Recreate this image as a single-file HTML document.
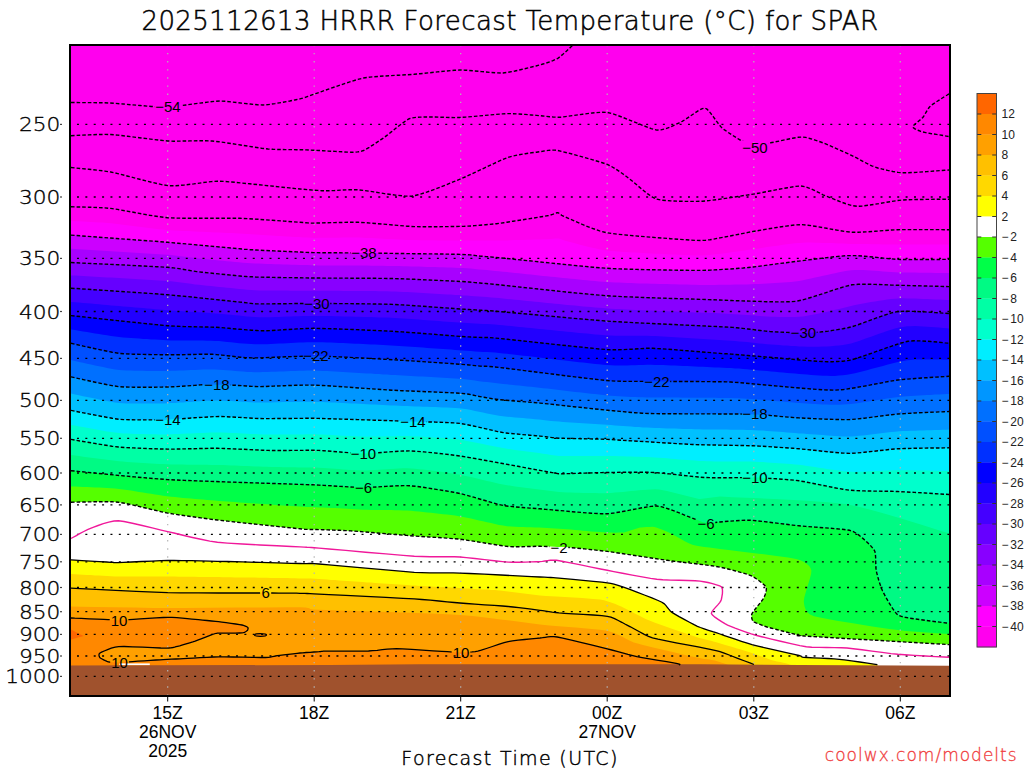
<!DOCTYPE html>
<html><head><meta charset="utf-8"><title>2025112613 HRRR Forecast Temperature for SPAR</title>
<style>
html,body{margin:0;padding:0;background:#fff;}
body{width:1024px;height:768px;overflow:hidden;}
svg{display:block;}
text{font-family:"DejaVu Sans","Liberation Sans",sans-serif;fill:#000;}
.dash{fill:none;stroke:#000;stroke-width:1.4;stroke-dasharray:3.6 2;}
.zero{fill:none;stroke:#F0189A;stroke-width:1.4;}
.solid{fill:none;stroke:#000;stroke-width:1.3;}
.gh line{stroke:#000;stroke-width:1.3;stroke-dasharray:2 6.37;}
.gv line{stroke:#B4B4B4;stroke-width:1.2;stroke-dasharray:1.4 6.72;}
.clab text{font-family:"Liberation Sans",sans-serif;font-size:15px;text-anchor:middle;}
.ylab text{font-size:19.4px;text-anchor:end;font-weight:200;stroke:#000;stroke-width:0.35px;}
.xlab text{font-family:"Liberation Sans",sans-serif;font-size:17.5px;text-anchor:middle;}
.cbl text{font-family:"Liberation Sans",sans-serif;font-size:12px;fill:#222;}
</style></head>
<body>
<svg width="1024" height="768" viewBox="0 0 1024 768">
<defs>
<mask id="lm" maskUnits="userSpaceOnUse" x="0" y="0" width="1024" height="768">
<rect x="0" y="0" width="1024" height="768" fill="#fff"/>
<rect x="154.8" y="99.5" width="26.3" height="14" fill="#000"/>
<rect x="741.9" y="141" width="26.3" height="14" fill="#000"/>
<rect x="350.9" y="246" width="26.3" height="14" fill="#000"/>
<rect x="303.9" y="296.4" width="26.3" height="14" fill="#000"/>
<rect x="790.4" y="326" width="26.3" height="14" fill="#000"/>
<rect x="302.9" y="349" width="26.3" height="14" fill="#000"/>
<rect x="643.9" y="374.3" width="26.3" height="14" fill="#000"/>
<rect x="203.8" y="377.7" width="26.3" height="14" fill="#000"/>
<rect x="741.9" y="407" width="26.3" height="14" fill="#000"/>
<rect x="154.8" y="412.6" width="26.3" height="14" fill="#000"/>
<rect x="399.9" y="414.5" width="26.3" height="14" fill="#000"/>
<rect x="350.4" y="446.5" width="26.3" height="14" fill="#000"/>
<rect x="741.9" y="470.5" width="26.3" height="14" fill="#000"/>
<rect x="354.1" y="480.5" width="18.7" height="14" fill="#000"/>
<rect x="696.6" y="516.6" width="18.7" height="14" fill="#000"/>
<rect x="549.6" y="540.3" width="18.7" height="14" fill="#000"/>
<rect x="260.1" y="586" width="11.1" height="14" fill="#000"/>
<rect x="109.7" y="613.6" width="18.7" height="14" fill="#000"/>
<rect x="110.2" y="656" width="18.7" height="14" fill="#000"/>
<rect x="451.6" y="645.3" width="18.7" height="14" fill="#000"/>
</mask>
<clipPath id="pc"><rect x="71" y="46" width="878" height="649"/></clipPath>
</defs>
<g clip-path="url(#pc)">
<rect x="71" y="46" width="878" height="649" fill="#FF00EE"/>
<path d="M71 220.9 L75 221.2 L79 221.3 L83 221.5 L87 221.7 L91 221.9 L95 222.2 L99 222.4 L103 222.6 L107 222.9 L111 223.2 L115 223.7 L119 224.2 L123 224.7 L127 225.2 L131 225.7 L135 226.2 L139 226.7 L143 227.2 L147 227.7 L151 228.2 L155 228.7 L159 229.2 L163 229.6 L167 230 L171 230.3 L175 230.5 L179 230.7 L183 230.9 L187 231.1 L191 231.3 L195 231.5 L199 231.7 L203 231.8 L207 232 L211 232.2 L215 232.4 L219 232.5 L223 232.7 L227 232.9 L231 233.1 L235 233.3 L239 233.5 L243 233.8 L247 234 L251 234.3 L255 234.5 L259 234.8 L263 235 L267 235.3 L271 235.5 L275 235.7 L279 236 L283 236.2 L287 236.4 L291 236.7 L295 236.9 L299 237.1 L303 237.4 L307 237.6 L311 237.8 L315 237.9 L319 237.8 L323 237.8 L327 237.8 L331 237.7 L335 237.7 L339 237.7 L343 237.6 L347 237.6 L351 237.6 L355 237.6 L359 237.6 L363 237.8 L367 237.9 L371 238.1 L375 238.3 L379 238.5 L383 238.7 L387 238.9 L391 239.1 L395 239.3 L399 239.5 L403 239.7 L407 239.9 L411 240 L415 240.1 L419 240.2 L423 240.3 L427 240.3 L431 240.3 L435 240.3 L439 240.4 L443 240.4 L447 240.4 L451 240.4 L455 240.4 L459 240.4 L463 240.4 L467 240.4 L471 240.4 L475 240.5 L479 240.6 L483 240.6 L487 240.6 L491 240.6 L495 240.6 L499 240.6 L503 240.5 L507 240.4 L511 240.2 L515 240.1 L519 240 L523 239.9 L527 239.8 L531 239.7 L535 239.6 L539 239.5 L543 239.3 L547 239.2 L551 239 L555 238.5 L559 238.6 L563 240.1 L567 241.2 L571 242.3 L575 243.3 L579 244.4 L583 245.4 L587 246.4 L591 247.4 L595 248.3 L599 249.2 L603 249.9 L607 250.6 L611 250.9 L615 251.3 L619 251.6 L623 251.9 L627 252.1 L631 252.4 L635 252.6 L639 252.8 L643 253 L647 253.2 L651 253.5 L655 253.7 L659 253.8 L663 254 L667 254.2 L671 254.4 L675 254.6 L679 254.7 L683 254.9 L687 255.1 L691 255.2 L695 255.4 L699 255.4 L703 255.4 L707 255.1 L711 254.8 L715 254.3 L719 253.9 L723 253.4 L727 252.9 L731 252.3 L735 251.8 L739 251.2 L743 250.7 L747 250.1 L751 249.5 L755 249 L759 248.4 L763 247.8 L767 247.1 L771 246.6 L775 246 L779 245.4 L783 244.8 L787 244.3 L791 243.8 L795 243.3 L799 242.9 L803 242.7 L807 242.6 L811 242.6 L815 242.7 L819 242.7 L823 242.9 L827 243 L831 243.1 L835 243.2 L839 243.4 L843 243.5 L847 243.7 L851 243.9 L855 243.9 L859 244 L863 244.1 L867 244.1 L871 244.2 L875 244.2 L879 244.3 L883 244.4 L887 244.4 L891 244.5 L895 244.5 L899 244.6 L903 244.6 L907 244.6 L911 244.6 L915 244.6 L919 244.6 L923 244.6 L927 244.6 L931 244.6 L935 244.6 L939 244.6 L943 244.6 L947 244.6 L949 244.5 L951 244.5 L951 700 L69 700 L69 220.9 Z" fill="#FF00FF"/>
<path d="M71 235.1 L80.3 235.8 L96.5 237 L116.5 238.5 L137 240 L155.1 241.3 L167.4 242.3 L178 243.2 L191.7 244.4 L206.6 245.8 L220.9 247.1 L232.6 248.1 L240 248.8 L244.1 249.2 L247.4 249.4 L250.3 249.7 L253 249.8 L255.9 250 L259.2 250.2 L265.1 250.5 L274.2 250.9 L285.2 251.4 L296.5 251.9 L306.4 252.4 L313.6 252.6 L319.9 252.7 L328 252.8 L337.2 252.8 L346.7 252.9 L355.9 252.9 L364 253 L375.5 253.1 L393.1 253.4 L413.7 253.7 L434 253.9 L450.8 254.2 L461 254.4 L466.2 254.6 L470.2 254.9 L473.4 255.2 L476 255.6 L478.1 255.9 L480 256.1 L481.8 256.2 L483.8 256.4 L486.2 256.6 L489.3 256.8 L493.4 257.2 L499 257.7 L510 258.8 L528.3 260.7 L550.4 263 L573.1 265.3 L593 267.2 L607 268.3 L619.6 268.9 L636.3 269.4 L654.5 269.8 L672.1 270.1 L686.7 270.3 L695.8 270.4 L701.2 270.4 L706.1 270.3 L710.5 270.1 L714.3 269.9 L717.5 269.7 L720 269.6 L722.7 269.4 L726.1 269.2 L729.9 269 L733.6 268.7 L736.7 268.5 L739 268.3 L740.4 268.2 L741.7 268.1 L743.2 268 L745.3 267.8 L748.4 267.5 L753 267 L762.7 265.8 L779 263.6 L798.6 261.1 L818.6 258.6 L835.8 256.6 L847 255.6 L855.1 255.6 L864.3 256.2 L874 257.1 L883.3 258.1 L891.5 258.9 L897.8 259.4 L904.8 259.5 L914.5 259.6 L925.3 259.5 L935.7 259.5 L944.1 259.4 L949 259.4 L951 259.4 L951 700 L69 700 L69 235.1 Z" fill="#CC00FF"/>
<path d="M71 248.8 L75 249 L79 249.3 L83 249.5 L87 249.8 L91 250 L95 250.3 L99 250.5 L103 250.7 L107 251 L111 251.2 L115 251.5 L119 251.7 L123 252 L127 252.2 L131 252.5 L135 252.7 L139 252.9 L143 253.2 L147 253.5 L151 253.7 L155 254 L159 254.2 L163 254.5 L167 254.8 L171 255.1 L175 255.5 L179 256 L183 256.5 L187 257 L191 257.5 L195 258 L199 258.5 L203 258.9 L207 259.3 L211 259.7 L215 260 L219 260.4 L223 260.8 L227 261.2 L231 261.6 L235 261.9 L239 262.3 L243 262.7 L247 263 L251 263.2 L255 263.5 L259 263.6 L263 263.8 L267 263.9 L271 264.1 L275 264.2 L279 264.3 L283 264.4 L287 264.6 L291 264.7 L295 264.8 L299 264.9 L303 265 L307 265.1 L311 265.2 L315 265.3 L319 265.4 L323 265.4 L327 265.4 L331 265.4 L335 265.5 L339 265.5 L343 265.5 L347 265.5 L351 265.5 L355 265.6 L359 265.6 L363 265.6 L367 265.6 L371 265.7 L375 265.7 L379 265.8 L383 265.8 L387 265.9 L391 265.9 L395 266 L399 266.1 L403 266.2 L407 266.3 L411 266.4 L415 266.5 L419 266.6 L423 266.7 L427 266.9 L431 267 L435 267.1 L439 267.2 L443 267.3 L447 267.5 L451 267.6 L455 267.7 L459 267.9 L463 268 L467 268.3 L471 268.6 L475 269 L479 269.4 L483 269.8 L487 270.1 L491 270.5 L495 270.9 L499 271.2 L503 271.7 L507 272.1 L511 272.5 L515 272.9 L519 273.3 L523 273.8 L527 274.2 L531 274.6 L535 275 L539 275.4 L543 275.9 L547 276.3 L551 276.7 L555 277.1 L559 277.5 L563 277.9 L567 278.3 L571 278.8 L575 279.1 L579 279.5 L583 279.9 L587 280.3 L591 280.7 L595 281.1 L599 281.4 L603 281.7 L607 282.1 L611 282.2 L615 282.4 L619 282.6 L623 282.8 L627 283 L631 283.1 L635 283.2 L639 283.4 L643 283.5 L647 283.6 L651 283.7 L655 283.8 L659 283.9 L663 284 L667 284.1 L671 284.2 L675 284.3 L679 284.4 L683 284.5 L687 284.6 L691 284.7 L695 284.8 L699 284.9 L703 284.9 L707 284.9 L711 284.9 L715 284.9 L719 284.8 L723 284.8 L727 284.7 L731 284.7 L735 284.6 L739 284.6 L743 284.5 L747 284.4 L751 284.2 L755 284 L759 283.9 L763 283.7 L767 283.5 L771 283.2 L775 283 L779 282.8 L783 282.5 L787 282.2 L791 281.9 L795 281.5 L799 280.9 L803 280.2 L807 279.3 L811 278.5 L815 277.6 L819 276.7 L823 275.8 L827 274.9 L831 274 L835 273.2 L839 272.3 L843 271.5 L847 270.8 L851 270.3 L855 270.1 L859 270 L863 270.1 L867 270.3 L871 270.5 L875 270.8 L879 271.1 L883 271.4 L887 271.7 L891 272 L895 272.2 L899 272.4 L903 272.5 L907 272.5 L911 272.6 L915 272.6 L919 272.7 L923 272.7 L927 272.8 L931 272.8 L935 272.9 L939 272.9 L943 272.9 L947 273 L949 273 L951 273 L951 700 L69 700 L69 248.8 Z" fill="#A800FF"/>
<path d="M71 262.5 L80.6 263 L97.5 263.8 L118.1 264.7 L139 265.8 L156.6 266.7 L167.4 267.3 L173.4 267.9 L179 268.6 L184 269.5 L188.7 270.3 L192.9 271 L196.7 271.6 L202 272.2 L209.8 273 L218.7 273.9 L227.6 274.8 L235.1 275.5 L240 276 L243.1 276.3 L246.1 276.5 L249.2 276.7 L252.3 276.8 L255.7 277 L259.2 277.1 L264.9 277.2 L273.6 277.4 L284.2 277.6 L295.2 277.7 L305.5 277.9 L313.6 278 L323 278.1 L336.7 278.1 L352.5 278.2 L368.4 278.2 L382.4 278.4 L392.4 278.5 L402 278.8 L414.8 279.3 L428.9 280 L442.6 280.6 L453.9 281.1 L461 281.5 L465.2 281.7 L469 282 L472.4 282.3 L475.3 282.6 L477.9 282.8 L480 283 L481.8 283.2 L483.8 283.3 L486.2 283.5 L489.3 283.8 L493.4 284.2 L499 284.8 L509.9 286 L527.7 287.9 L549.5 290.2 L572 292.6 L592.2 294.5 L607 295.8 L622.1 296.6 L643.2 297.5 L666.8 298.3 L689.7 299 L708.6 299.6 L720 300 L725.5 300.2 L729.1 300.4 L731.6 300.5 L733.6 300.6 L735.9 300.7 L739 300.8 L745.1 301 L754.7 301.3 L766.2 301.7 L778 301.9 L788.6 301.8 L796.2 301.3 L803.6 299.6 L813.4 296.7 L824.5 293.1 L835.5 289.4 L845.1 286.5 L852 284.8 L858.2 284.3 L866.2 284.2 L875.1 284.4 L883.9 284.7 L891.7 285.1 L897.8 285.3 L904.6 285.4 L914.2 285.7 L925.1 286 L935.6 286.2 L944.1 286.5 L949 286.6 L951 286.6 L951 700 L69 700 L69 262.5 Z" fill="#8800FF"/>
<path d="M71 275.4 L75 275.6 L79 275.8 L83 276 L87 276.3 L91 276.5 L95 276.7 L99 276.9 L103 277.2 L107 277.4 L111 277.6 L115 277.8 L119 278.1 L123 278.3 L127 278.5 L131 278.8 L135 279 L139 279.2 L143 279.5 L147 279.7 L151 279.9 L155 280.2 L159 280.4 L163 280.7 L167 281 L171 281.3 L175 281.7 L179 282.2 L183 282.7 L187 283.3 L191 283.8 L195 284.4 L199 284.8 L203 285.2 L207 285.7 L211 286.1 L215 286.5 L219 286.9 L223 287.3 L227 287.7 L231 288.1 L235 288.6 L239 289 L243 289.3 L247 289.7 L251 290.1 L255 290.3 L259 290.5 L263 290.5 L267 290.6 L271 290.6 L275 290.6 L279 290.6 L283 290.6 L287 290.6 L291 290.7 L295 290.7 L299 290.7 L303 290.7 L307 290.7 L311 290.7 L315 290.7 L319 290.7 L323 290.7 L327 290.8 L331 290.8 L335 290.8 L339 290.8 L343 290.9 L347 290.9 L351 290.9 L355 291 L359 291 L363 291 L367 291.1 L371 291.1 L375 291.1 L379 291.2 L383 291.3 L387 291.3 L391 291.4 L395 291.6 L399 291.7 L403 291.9 L407 292.1 L411 292.3 L415 292.5 L419 292.8 L423 293 L427 293.2 L431 293.5 L435 293.7 L439 293.9 L443 294.2 L447 294.4 L451 294.6 L455 294.9 L459 295.1 L463 295.4 L467 295.6 L471 295.9 L475 296.2 L479 296.5 L483 296.8 L487 297.1 L491 297.4 L495 297.8 L499 298.1 L503 298.5 L507 298.9 L511 299.3 L515 299.7 L519 300.1 L523 300.5 L527 300.9 L531 301.3 L535 301.7 L539 302.1 L543 302.5 L547 302.9 L551 303.3 L555 303.7 L559 304.1 L563 304.5 L567 304.9 L571 305.3 L575 305.6 L579 306 L583 306.4 L587 306.8 L591 307.1 L595 307.5 L599 307.8 L603 308.1 L607 308.5 L611 308.7 L615 308.9 L619 309.1 L623 309.3 L627 309.5 L631 309.7 L635 309.9 L639 310.1 L643 310.3 L647 310.4 L651 310.6 L655 310.8 L659 310.9 L663 311.1 L667 311.3 L671 311.4 L675 311.6 L679 311.7 L683 311.9 L687 312 L691 312.2 L695 312.4 L699 312.5 L703 312.7 L707 312.8 L711 313 L715 313.1 L719 313.3 L723 313.5 L727 313.7 L731 313.9 L735 314.2 L739 314.4 L743 314.7 L747 315 L751 315.3 L755 315.6 L759 315.9 L763 316.2 L767 316.5 L771 316.7 L775 316.8 L779 317 L783 317.1 L787 317.1 L791 317.1 L795 317.1 L799 316.8 L803 316.4 L807 315.8 L811 315.1 L815 314.3 L819 313.5 L823 312.6 L827 311.7 L831 310.8 L835 309.8 L839 308.9 L843 307.9 L847 306.9 L851 306 L855 305.1 L859 304.3 L863 303.5 L867 302.8 L871 302.1 L875 301.4 L879 300.8 L883 300.2 L887 299.6 L891 299.1 L895 298.7 L899 298.4 L903 298.3 L907 298.4 L911 298.5 L915 298.6 L919 298.7 L923 298.9 L927 299 L931 299.2 L935 299.4 L939 299.6 L943 299.8 L947 300 L949 300.1 L951 300.1 L951 700 L69 700 L69 275.4 Z" fill="#6600FF"/>
<path d="M71 288.2 L80.3 288.8 L96.5 289.9 L116.5 291.2 L137 292.5 L155.1 293.8 L167.4 294.7 L178 295.7 L191.7 297 L206.6 298.6 L220.9 300.1 L232.6 301.3 L240 302.1 L244.1 302.5 L247.3 302.9 L250.2 303.3 L252.8 303.6 L255.7 303.8 L259.2 303.9 L265.2 303.9 L274.6 303.8 L286 303.7 L297.8 303.5 L308.6 303.4 L317 303.4 L326.2 303.5 L339.3 303.6 L354.3 303.7 L369.4 303.9 L382.7 304.1 L392.4 304.4 L401.9 304.9 L414.6 305.7 L428.8 306.7 L442.5 307.7 L453.9 308.5 L461 309 L465.2 309.3 L469 309.5 L472.4 309.7 L475.3 309.9 L477.9 310.1 L480 310.2 L481.8 310.3 L483.8 310.4 L486.2 310.5 L489.3 310.7 L493.4 311 L499 311.5 L509.9 312.5 L527.7 314.1 L549.5 316.1 L572 318.2 L592.2 319.9 L607 321.1 L622.1 322 L643.2 323.1 L666.8 324.2 L689.7 325.3 L708.6 326.2 L720 326.7 L725.6 327 L729.7 327.2 L732.6 327.4 L734.8 327.6 L736.8 327.8 L739 328 L742.6 328.4 L747.8 329 L754 329.7 L760.2 330.5 L765.8 331.1 L770 331.5 L774.3 331.8 L780.3 332.1 L787.1 332.4 L793.8 332.7 L799.6 332.9 L803.5 333 L806.7 332.9 L810.4 332.8 L814.5 332.5 L818.5 332.2 L822.1 331.8 L825 331.5 L828.2 331.1 L832.5 330.4 L837.6 329.6 L842.8 328.7 L847.8 327.7 L852 326.7 L857.2 325 L865 322.2 L874 318.8 L883.2 315.6 L891.5 312.9 L897.8 311.5 L904.6 311.2 L914.2 311.4 L925.1 311.9 L935.6 312.6 L944.1 313.2 L949 313.5 L951 313.5 L951 700 L69 700 L69 288.2 Z" fill="#4400FF"/>
<path d="M71 301.9 L75 302.2 L79 302.6 L83 302.9 L87 303.3 L91 303.6 L95 304 L99 304.3 L103 304.7 L107 305 L111 305.4 L115 305.7 L119 306.1 L123 306.4 L127 306.7 L131 307.1 L135 307.4 L139 307.8 L143 308.1 L147 308.5 L151 308.8 L155 309.2 L159 309.5 L163 309.8 L167 310.2 L171 310.5 L175 310.8 L179 311 L183 311.3 L187 311.6 L191 311.8 L195 312.1 L199 312.3 L203 312.6 L207 312.8 L211 313.1 L215 313.4 L219 313.7 L223 314 L227 314.4 L231 314.8 L235 315.2 L239 315.6 L243 316 L247 316.4 L251 316.8 L255 317.1 L259 317.3 L263 317.3 L267 317.3 L271 317.2 L275 317.1 L279 316.9 L283 316.8 L287 316.6 L291 316.4 L295 316.3 L299 316.2 L303 316 L307 315.9 L311 315.9 L315 315.9 L319 315.9 L323 316 L327 316 L331 316.1 L335 316.2 L339 316.3 L343 316.4 L347 316.5 L351 316.6 L355 316.7 L359 316.8 L363 316.9 L367 317 L371 317.1 L375 317.2 L379 317.4 L383 317.5 L387 317.6 L391 317.8 L395 318 L399 318.2 L403 318.5 L407 318.8 L411 319 L415 319.3 L419 319.6 L423 319.9 L427 320.2 L431 320.5 L435 320.8 L439 321.1 L443 321.4 L447 321.7 L451 322 L455 322.3 L459 322.6 L463 322.8 L467 323.1 L471 323.3 L475 323.5 L479 323.7 L483 323.9 L487 324.1 L491 324.3 L495 324.6 L499 324.9 L503 325.3 L507 325.7 L511 326.1 L515 326.5 L519 326.9 L523 327.3 L527 327.7 L531 328.1 L535 328.5 L539 328.9 L543 329.3 L547 329.7 L551 330.1 L555 330.5 L559 330.9 L563 331.3 L567 331.7 L571 332.1 L575 332.5 L579 332.9 L583 333.2 L587 333.6 L591 334 L595 334.4 L599 334.7 L603 335 L607 335.4 L611 335.5 L615 335.7 L619 335.8 L623 335.8 L627 335.8 L631 335.8 L635 335.8 L639 335.8 L643 335.8 L647 335.8 L651 335.9 L655 336 L659 336.2 L663 336.5 L667 336.7 L671 336.9 L675 337.2 L679 337.4 L683 337.7 L687 337.9 L691 338.2 L695 338.4 L699 338.7 L703 339 L707 339.2 L711 339.5 L715 339.7 L719 340 L723 340.2 L727 340.5 L731 340.7 L735 341 L739 341.4 L743 341.7 L747 342.1 L751 342.6 L755 343 L759 343.4 L763 343.8 L767 344.2 L771 344.5 L775 344.8 L779 345.1 L783 345.4 L787 345.6 L791 345.9 L795 346.1 L799 346.4 L803 346.6 L807 346.7 L811 346.7 L815 346.8 L819 346.7 L823 346.6 L827 346.5 L831 346.2 L835 345.8 L839 345.4 L843 344.9 L847 344.3 L851 343.4 L855 342.3 L859 340.9 L863 339.5 L867 338.1 L871 336.7 L875 335.2 L879 333.8 L883 332.4 L887 331.1 L891 329.7 L895 328.6 L899 327.6 L903 326.9 L907 326.3 L911 326.2 L915 326.1 L919 326.2 L923 326.4 L927 326.7 L931 326.9 L935 327.2 L939 327.5 L943 327.9 L947 328.2 L949 328.4 L951 328.4 L951 700 L69 700 L69 301.9 Z" fill="#2200FF"/>
<path d="M71 315.6 L80.5 316.6 L97.1 318.4 L117.4 320.6 L138.1 322.8 L155.9 324.6 L167.4 325.7 L175.6 326.2 L184.9 326.6 L194.5 326.8 L203.5 327 L211.1 327.1 L216.2 327.3 L220.1 327.5 L224.5 327.9 L229 328.3 L233.3 328.7 L237 329.1 L240 329.3 L243.1 329.5 L247.1 329.9 L251.8 330.2 L256.6 330.5 L261.3 330.7 L265.4 330.8 L270.6 330.6 L278.3 330.1 L287.5 329.5 L297.1 328.9 L306.1 328.5 L313.6 328.3 L322.8 328.5 L336.4 328.9 L352.2 329.5 L368.2 330.2 L382.3 330.8 L392.4 331.3 L402 331.9 L414.8 332.8 L428.9 333.9 L442.6 335 L453.9 335.9 L461 336.4 L465.2 336.7 L469 336.9 L472.4 337.1 L475.3 337.2 L477.9 337.3 L480 337.4 L481.8 337.5 L483.8 337.5 L486.2 337.5 L489.3 337.6 L493.4 337.9 L499 338.4 L510.3 339.6 L529.2 341.6 L552 344.1 L575 346.5 L594.5 348.5 L607 349.6 L614.9 349.8 L623.2 349.6 L631.4 349.2 L639.2 348.7 L646.5 348.3 L652.7 348.3 L661 348.8 L673.3 349.6 L687.4 350.8 L701.2 351.9 L712.8 352.8 L720 353.4 L723.7 353.7 L726.5 353.8 L728.9 354 L731.5 354.1 L734.7 354.4 L739 354.7 L747.9 355.5 L762.4 356.7 L779.9 358.2 L797.4 359.7 L812.3 360.9 L821.6 361.5 L827.2 361.7 L832.6 361.7 L837.8 361.5 L842.8 361.2 L847.5 360.6 L852 359.7 L858.5 357.7 L868.2 354.4 L879.6 350.3 L891.1 346.3 L901.1 343 L908 341.2 L914.1 340.8 L922 340.9 L930.6 341.5 L938.7 342.2 L945.2 342.9 L949 343.2 L951 343.2 L951 700 L69 700 L69 315.6 Z" fill="#0000FF"/>
<path d="M71 329.5 L75 330.1 L79 330.8 L83 331.4 L87 332.1 L91 332.8 L95 333.4 L99 334.1 L103 334.7 L107 335.3 L111 336 L115 336.5 L119 337 L123 337.4 L127 337.8 L131 338.1 L135 338.3 L139 338.6 L143 338.9 L147 339.1 L151 339.4 L155 339.6 L159 339.8 L163 340 L167 340.2 L171 340.4 L175 340.5 L179 340.5 L183 340.6 L187 340.6 L191 340.6 L195 340.6 L199 340.6 L203 340.6 L207 340.7 L211 340.7 L215 340.9 L219 341.1 L223 341.5 L227 341.9 L231 342.3 L235 342.8 L239 343.2 L243 343.5 L247 343.8 L251 344 L255 344.2 L259 344.3 L263 344.3 L267 344.2 L271 344 L275 343.8 L279 343.6 L283 343.4 L287 343.2 L291 342.9 L295 342.7 L299 342.6 L303 342.4 L307 342.3 L311 342.2 L315 342.2 L319 342.2 L323 342.3 L327 342.5 L331 342.6 L335 342.8 L339 342.9 L343 343.1 L347 343.3 L351 343.5 L355 343.7 L359 343.8 L363 344 L367 344.2 L371 344.4 L375 344.6 L379 344.8 L383 345 L387 345.2 L391 345.4 L395 345.7 L399 345.9 L403 346.2 L407 346.4 L411 346.7 L415 347 L419 347.3 L423 347.6 L427 347.9 L431 348.2 L435 348.4 L439 348.7 L443 349 L447 349.3 L451 349.6 L455 349.9 L459 350.2 L463 350.5 L467 350.8 L471 351.1 L475 351.4 L479 351.7 L483 351.9 L487 352 L491 352.2 L495 352.5 L499 352.9 L503 353.4 L507 353.8 L511 354.3 L515 354.7 L519 355.2 L523 355.7 L527 356.1 L531 356.6 L535 357.1 L539 357.5 L543 358 L547 358.5 L551 358.9 L555 359.4 L559 359.9 L563 360.3 L567 360.8 L571 361.3 L575 361.7 L579 362.2 L583 362.6 L587 363 L591 363.5 L595 363.9 L599 364.3 L603 364.7 L607 365.1 L611 365.3 L615 365.5 L619 365.5 L623 365.5 L627 365.4 L631 365.3 L635 365.2 L639 365 L643 364.9 L647 364.8 L651 364.8 L655 364.9 L659 365 L663 365.1 L667 365.3 L671 365.4 L675 365.6 L679 365.8 L683 366 L687 366.1 L691 366.3 L695 366.5 L699 366.7 L703 366.8 L707 367 L711 367.2 L715 367.4 L719 367.6 L723 367.7 L727 367.9 L731 368.1 L735 368.4 L739 368.6 L743 369 L747 369.3 L751 369.7 L755 370.1 L759 370.4 L763 370.8 L767 371.1 L771 371.5 L775 371.8 L779 372.2 L783 372.6 L787 372.9 L791 373.2 L795 373.6 L799 373.9 L803 374.2 L807 374.6 L811 374.9 L815 375.2 L819 375.4 L823 375.7 L827 375.8 L831 375.9 L835 375.9 L839 375.6 L843 375.3 L847 374.8 L851 374.1 L855 373.3 L859 372.3 L863 371.3 L867 370.2 L871 369.1 L875 368 L879 366.9 L883 365.9 L887 364.8 L891 363.7 L895 362.7 L899 361.8 L903 361 L907 360.3 L911 359.9 L915 359.6 L919 359.6 L923 359.5 L927 359.5 L931 359.5 L935 359.5 L939 359.6 L943 359.7 L947 359.7 L949 359.8 L951 359.8 L951 700 L69 700 L69 329.5 Z" fill="#0030FF"/>
<path d="M71 343.3 L75.5 344.3 L83.3 346.1 L93 348.2 L103 350.4 L112.1 352.2 L118.6 353.3 L124.9 353.8 L133.5 354.2 L143.1 354.4 L152.7 354.6 L161.2 354.7 L167.4 354.8 L173.5 354.8 L181.6 354.7 L190.6 354.5 L199.5 354.3 L207.1 354.3 L212.3 354.3 L216.5 354.6 L221.7 355.1 L227.1 355.7 L232.3 356.3 L236.8 356.9 L240 357.2 L242.5 357.4 L245.4 357.6 L248.5 357.7 L251.9 357.9 L255.5 357.9 L259.2 357.9 L265.1 357.7 L274.3 357.3 L285.5 356.8 L297 356.4 L307.7 356.1 L316 356 L325.3 356.3 L338.5 356.9 L353.8 357.6 L369.1 358.4 L382.6 359.2 L392.4 359.7 L401.9 360.3 L414.7 361.1 L428.9 362.1 L442.5 363 L453.9 363.8 L461 364.3 L465.2 364.6 L469 365 L472.4 365.3 L475.3 365.6 L477.9 365.9 L480 366.1 L481.8 366.2 L483.8 366.3 L486.2 366.3 L489.3 366.5 L493.4 366.8 L499 367.4 L510.3 368.8 L529.1 371.2 L551.8 374 L574.8 376.9 L594.4 379.2 L607 380.6 L615.4 381.1 L624.5 381.4 L633.7 381.4 L642.5 381.4 L650.5 381.3 L657 381.3 L665 381.4 L676.5 381.5 L689.7 381.5 L702.5 381.6 L713.3 381.7 L720 381.8 L723.5 381.8 L726 381.9 L728.3 381.9 L730.8 382 L734.2 382.3 L739 382.6 L748.9 383.5 L765.3 385 L785 386.8 L805.1 388.5 L822.5 389.8 L834.3 390.2 L843.7 389.5 L855.3 387.7 L867.7 385.5 L879.8 383.2 L890.2 381.2 L897.8 380 L905.2 379.3 L915 378.5 L925.8 377.8 L936 377.1 L944.2 376.6 L949 376.3 L951 376.3 L951 700 L69 700 L69 343.3 Z" fill="#0050FF"/>
<path d="M71 360.1 L75 361 L79 361.9 L83 362.8 L87 363.7 L91 364.6 L95 365.4 L99 366.3 L103 367.1 L107 367.9 L111 368.7 L115 369.4 L119 370 L123 370.3 L127 370.5 L131 370.6 L135 370.7 L139 370.8 L143 370.8 L147 370.9 L151 370.9 L155 370.9 L159 370.9 L163 370.9 L167 370.9 L171 370.8 L175 370.7 L179 370.6 L183 370.4 L187 370.2 L191 370 L195 369.9 L199 369.7 L203 369.5 L207 369.4 L211 369.4 L215 369.6 L219 369.8 L223 370 L227 370.3 L231 370.6 L235 371 L239 371.3 L243 371.6 L247 371.9 L251 372.1 L255 372.2 L259 372.2 L263 372.1 L267 372 L271 371.8 L275 371.7 L279 371.5 L283 371.4 L287 371.2 L291 371 L295 370.9 L299 370.8 L303 370.7 L307 370.6 L311 370.6 L315 370.6 L319 370.7 L323 370.9 L327 371.1 L331 371.3 L335 371.5 L339 371.7 L343 372 L347 372.2 L351 372.4 L355 372.7 L359 372.9 L363 373.2 L367 373.4 L371 373.6 L375 373.9 L379 374.1 L383 374.4 L387 374.6 L391 374.9 L395 375.1 L399 375.3 L403 375.5 L407 375.8 L411 376 L415 376.2 L419 376.4 L423 376.6 L427 376.8 L431 377.1 L435 377.3 L439 377.5 L443 377.7 L447 378 L451 378.2 L455 378.4 L459 378.7 L463 379 L467 379.4 L471 379.9 L475 380.6 L479 381.2 L483 381.7 L487 382.1 L491 382.5 L495 383 L499 383.5 L503 383.9 L507 384.3 L511 384.8 L515 385.2 L519 385.6 L523 386 L527 386.4 L531 386.8 L535 387.3 L539 387.7 L543 388.2 L547 388.6 L551 389.1 L555 389.5 L559 390 L563 390.5 L567 390.9 L571 391.4 L575 391.9 L579 392.3 L583 392.8 L587 393.2 L591 393.7 L595 394.1 L599 394.5 L603 395 L607 395.4 L611 395.7 L615 396 L619 396.3 L623 396.5 L627 396.7 L631 396.9 L635 397.1 L639 397.2 L643 397.3 L647 397.4 L651 397.4 L655 397.4 L659 397.5 L663 397.5 L667 397.5 L671 397.6 L675 397.6 L679 397.6 L683 397.7 L687 397.7 L691 397.7 L695 397.7 L699 397.7 L703 397.8 L707 397.8 L711 397.8 L715 397.8 L719 397.9 L723 397.9 L727 397.9 L731 398 L735 398.2 L739 398.3 L743 398.5 L747 398.7 L751 399 L755 399.3 L759 399.6 L763 399.9 L767 400.2 L771 400.5 L775 400.9 L779 401.3 L783 401.6 L787 402 L791 402.3 L795 402.7 L799 403 L803 403.2 L807 403.5 L811 403.7 L815 404 L819 404.2 L823 404.4 L827 404.6 L831 404.7 L835 404.8 L839 404.7 L843 404.6 L847 404.3 L851 403.9 L855 403.5 L859 402.9 L863 402.3 L867 401.7 L871 401.1 L875 400.4 L879 399.8 L883 399.2 L887 398.5 L891 397.9 L895 397.4 L899 396.9 L903 396.6 L907 396.3 L911 396 L915 395.8 L919 395.5 L923 395.3 L927 395.1 L931 394.9 L935 394.6 L939 394.4 L943 394.2 L947 394 L949 393.9 L951 393.9 L951 700 L69 700 L69 360.1 Z" fill="#0070FF"/>
<path d="M71 376.9 L75.5 377.9 L83.3 379.6 L93 381.7 L103 383.9 L112.1 385.6 L118.6 386.6 L125 387 L133.6 387.2 L143.4 387.2 L153.1 387.2 L161.5 387.1 L167.4 387 L172.8 386.8 L179.7 386.4 L187.3 385.9 L194.6 385.4 L200.6 384.9 L204.5 384.7 L206.9 384.6 L209.2 384.6 L211.4 384.6 L213.5 384.6 L215.3 384.7 L217 384.7 L219.2 384.8 L222.3 384.8 L226 385 L229.7 385.1 L233.2 385.2 L235.8 385.3 L238.5 385.5 L242 385.7 L246.2 386 L250.6 386.3 L255.1 386.5 L259.2 386.6 L265 386.5 L273.8 386.1 L284.3 385.7 L295.3 385.3 L305.5 385.1 L313.6 385.1 L323 385.5 L336.7 386.4 L352.5 387.5 L368.4 388.6 L382.4 389.6 L392.4 390.2 L402 390.7 L414.8 391.2 L428.9 391.8 L442.6 392.4 L453.9 392.9 L461 393.3 L465.2 393.7 L469 394.3 L472.4 395 L475.3 395.6 L477.9 396.2 L480 396.6 L482.3 397 L485.3 397.5 L488.7 398.1 L492.3 398.7 L495.8 399.2 L499 399.6 L503.4 400 L509.9 400.6 L517.7 401.2 L525.9 401.9 L533.6 402.5 L540 403.1 L548 403.9 L559.8 405.2 L573.6 406.7 L587.4 408.1 L599.3 409.4 L607.3 410.2 L613.3 410.8 L620.1 411.4 L627.4 412.1 L635 412.7 L642.3 413.2 L649.2 413.5 L659.6 413.7 L675.7 413.8 L694.5 413.9 L713.2 413.9 L728.7 414 L738 414 L742.7 414.1 L746.4 414.1 L749.3 414.2 L751.6 414.3 L753.4 414.4 L755 414.5 L756.7 414.6 L758.8 414.7 L761.1 414.8 L763.5 415 L765.9 415.1 L768.2 415.3 L771.4 415.6 L776.3 416 L782.2 416.6 L788.4 417.1 L794.2 417.6 L799 417.9 L804.9 418.2 L813.5 418.6 L823.6 419.1 L833.8 419.4 L842.9 419.6 L849.5 419.6 L855.8 419.1 L864.2 418.2 L873.6 417 L883.1 415.7 L891.5 414.7 L897.8 414 L904.7 413.6 L914.4 413 L925.2 412.5 L935.7 412.1 L944.1 411.7 L949 411.5 L951 411.5 L951 700 L69 700 L69 376.9 Z" fill="#0096FF"/>
<path d="M71 393.6 L75 394.5 L79 395.3 L83 396.2 L87 397 L91 397.8 L95 398.6 L99 399.4 L103 400.2 L107 401 L111 401.7 L115 402.4 L119 402.9 L123 403.2 L127 403.4 L131 403.5 L135 403.5 L139 403.6 L143 403.6 L147 403.6 L151 403.6 L155 403.5 L159 403.5 L163 403.4 L167 403.3 L171 403.1 L175 402.9 L179 402.6 L183 402.4 L187 402.1 L191 401.9 L195 401.6 L199 401.3 L203 401 L207 400.8 L211 400.7 L215 400.6 L219 400.6 L223 400.7 L227 400.9 L231 401 L235 401.2 L239 401.5 L243 401.7 L247 402 L251 402.2 L255 402.4 L259 402.5 L263 402.5 L267 402.5 L271 402.4 L275 402.3 L279 402.2 L283 402.1 L287 402 L291 402 L295 401.9 L299 401.8 L303 401.8 L307 401.7 L311 401.7 L315 401.7 L319 401.9 L323 402 L327 402.2 L331 402.4 L335 402.6 L339 402.8 L343 403 L347 403.2 L351 403.4 L355 403.6 L359 403.8 L363 404 L367 404.2 L371 404.4 L375 404.6 L379 404.8 L383 405 L387 405.2 L391 405.4 L395 405.6 L399 405.8 L403 405.9 L407 406.1 L411 406.2 L415 406.4 L419 406.5 L423 406.7 L427 406.8 L431 407 L435 407.1 L439 407.2 L443 407.4 L447 407.6 L451 407.8 L455 408 L459 408.3 L463 408.7 L467 409.3 L471 410.1 L475 410.9 L479 411.8 L483 412.6 L487 413.5 L491 414.2 L495 415 L499 415.7 L503 416.3 L507 416.7 L511 417.1 L515 417.5 L519 417.8 L523 418.1 L527 418.5 L531 418.8 L535 419.2 L539 419.5 L543 419.9 L547 420.4 L551 420.9 L555 421.3 L559 421.6 L563 421.9 L567 422.2 L571 422.4 L575 422.7 L579 422.9 L583 423.2 L587 423.5 L591 423.7 L595 424 L599 424.2 L603 424.5 L607 424.8 L611 425.1 L615 425.4 L619 425.7 L623 426 L627 426.3 L631 426.6 L635 426.9 L639 427.1 L643 427.4 L647 427.6 L651 427.8 L655 427.9 L659 428.1 L663 428.2 L667 428.4 L671 428.5 L675 428.6 L679 428.8 L683 428.9 L687 429 L691 429.1 L695 429.2 L699 429.3 L703 429.4 L707 429.4 L711 429.5 L715 429.5 L719 429.5 L723 429.6 L727 429.6 L731 429.7 L735 429.7 L739 429.7 L743 429.8 L747 429.9 L751 430 L755 430.2 L759 430.4 L763 430.6 L767 430.9 L771 431.2 L775 431.5 L779 431.8 L783 432.1 L787 432.5 L791 432.8 L795 433.1 L799 433.4 L803 433.6 L807 433.9 L811 434.2 L815 434.5 L819 434.8 L823 435.1 L827 435.4 L831 435.7 L835 436 L839 436.2 L843 436.4 L847 436.5 L851 436.4 L855 436.2 L859 435.8 L863 435.4 L867 434.9 L871 434.4 L875 434 L879 433.5 L883 433 L887 432.5 L891 432.1 L895 431.7 L899 431.3 L903 431.1 L907 431 L911 430.8 L915 430.7 L919 430.5 L923 430.4 L927 430.3 L931 430.2 L935 430 L939 429.9 L943 429.8 L947 429.7 L949 429.6 L951 429.6 L951 700 L69 700 L69 393.6 Z" fill="#00C0FF"/>
<path d="M71 410.4 L75.6 411.3 L83.5 412.9 L93.3 414.8 L103.4 416.7 L112.2 418.3 L118.4 419.2 L123.8 419.6 L131 419.8 L138.8 419.9 L146.3 419.9 L152.5 419.9 L156.5 419.9 L158.9 419.9 L161.1 419.9 L163 419.8 L164.9 419.7 L166.5 419.7 L168 419.6 L169.9 419.5 L172.5 419.3 L175.6 419.1 L178.9 418.9 L182.1 418.7 L185 418.5 L188.9 418.2 L194.7 417.8 L201.7 417.4 L208.8 416.9 L215.2 416.6 L220 416.5 L224.9 416.6 L231.7 417 L239.4 417.4 L247.1 417.9 L254 418.3 L259.2 418.5 L264.6 418.6 L272 418.6 L280.4 418.5 L288.5 418.5 L295.5 418.4 L300 418.4 L302.8 418.4 L305.4 418.3 L308.1 418.3 L311.1 418.3 L314.7 418.3 L319 418.4 L327.4 418.7 L341.3 419.1 L357.8 419.6 L374.4 420.2 L388.2 420.6 L396.5 420.9 L400.5 421 L403.5 421.1 L405.9 421.2 L408 421.3 L410.2 421.4 L413 421.5 L418.1 421.7 L426 421.9 L435.5 422.1 L445.2 422.5 L453.8 422.9 L460 423.4 L465.8 424.4 L473.4 426 L482 427.9 L490.4 429.9 L497.8 431.6 L503.2 432.6 L508.3 433.3 L515.1 433.9 L522.5 434.6 L529.8 435.2 L535.9 435.7 L540 436.1 L542.9 436.4 L545.9 436.8 L549.1 437.2 L552.3 437.6 L555.6 438 L559 438.2 L564 438.4 L571.5 438.5 L580.7 438.7 L590.3 438.9 L599.6 439.1 L607.3 439.4 L617.2 440 L632.1 440.9 L649.4 441.9 L666.8 443 L682 443.9 L692.4 444.5 L701.2 444.8 L712.2 445 L724.2 445.2 L735.8 445.4 L745.8 445.6 L753 445.8 L759.4 446.1 L767.5 446.6 L776.4 447.2 L785.2 447.8 L793 448.3 L799 448.8 L805.4 449.4 L814.2 450.3 L824.2 451.4 L834.2 452.4 L843 453.1 L849.5 453.4 L855.8 453.1 L864.2 452.3 L873.6 451.3 L883.1 450.2 L891.5 449.3 L897.8 448.8 L904.7 448.5 L914.4 448.3 L925.2 448.1 L935.7 448 L944.1 447.9 L949 447.8 L951 447.8 L951 700 L69 700 L69 410.4 Z" fill="#00EEFF"/>
<path d="M71 424.9 L75 425.6 L79 426.4 L83 427.1 L87 427.8 L91 428.6 L95 429.3 L99 430 L103 430.7 L107 431.4 L111 432 L115 432.6 L119 433.1 L123 433.4 L127 433.6 L131 433.8 L135 433.9 L139 434 L143 434.1 L147 434.2 L151 434.3 L155 434.3 L159 434.4 L163 434.4 L167 434.4 L171 434.3 L175 434.1 L179 433.9 L183 433.8 L187 433.6 L191 433.4 L195 433.2 L199 433.1 L203 432.9 L207 432.7 L211 432.6 L215 432.5 L219 432.4 L223 432.5 L227 432.7 L231 432.9 L235 433.1 L239 433.3 L243 433.5 L247 433.7 L251 433.9 L255 434.1 L259 434.3 L263 434.4 L267 434.5 L271 434.5 L275 434.5 L279 434.5 L283 434.5 L287 434.5 L291 434.5 L295 434.4 L299 434.4 L303 434.4 L307 434.3 L311 434.3 L315 434.3 L319 434.4 L323 434.6 L327 434.8 L331 435 L335 435.3 L339 435.5 L343 435.7 L347 435.9 L351 436.1 L355 436.3 L359 436.5 L363 436.6 L367 436.7 L371 436.6 L375 436.6 L379 436.5 L383 436.4 L387 436.3 L391 436.2 L395 436.2 L399 436.1 L403 436.1 L407 436.1 L411 436.2 L415 436.4 L419 436.6 L423 436.8 L427 437 L431 437.3 L435 437.6 L439 437.8 L443 438.1 L447 438.4 L451 438.8 L455 439.2 L459 439.6 L463 440.2 L467 440.9 L471 441.7 L475 442.4 L479 443.3 L483 444.1 L487 444.9 L491 445.7 L495 446.5 L499 447.3 L503 448.1 L507 448.7 L511 449.3 L515 449.9 L519 450.4 L523 451 L527 451.5 L531 452 L535 452.6 L539 453.1 L543 453.7 L547 454.3 L551 454.9 L555 455.5 L559 455.9 L563 456.1 L567 456 L571 456 L575 456 L579 456 L583 455.9 L587 455.9 L591 455.9 L595 455.9 L599 455.9 L603 455.9 L607 455.9 L611 456 L615 456.1 L619 456.2 L623 456.3 L627 456.4 L631 456.5 L635 456.7 L639 456.8 L643 456.9 L647 457.1 L651 457.2 L655 457.4 L659 457.7 L663 458 L667 458.3 L671 458.7 L675 459 L679 459.4 L683 459.7 L687 460 L691 460.3 L695 460.6 L699 460.9 L703 461.1 L707 461.2 L711 461.3 L715 461.4 L719 461.4 L723 461.5 L727 461.5 L731 461.5 L735 461.5 L739 461.5 L743 461.6 L747 461.6 L751 461.6 L755 461.7 L759 461.9 L763 462.1 L767 462.4 L771 462.7 L775 462.9 L779 463.2 L783 463.5 L787 463.8 L791 464.1 L795 464.4 L799 464.8 L803 465.3 L807 465.9 L811 466.5 L815 467.1 L819 467.7 L823 468.3 L827 468.9 L831 469.5 L835 470.1 L839 470.6 L843 471.2 L847 471.6 L851 471.8 L855 471.9 L859 471.8 L863 471.7 L867 471.5 L871 471.3 L875 471.1 L879 470.9 L883 470.7 L887 470.5 L891 470.4 L895 470.2 L899 470.2 L903 470.2 L907 470.2 L911 470.3 L915 470.4 L919 470.5 L923 470.5 L927 470.6 L931 470.7 L935 470.8 L939 470.9 L943 471 L947 471.1 L949 471.1 L951 471.1 L951 700 L69 700 L69 424.9 Z" fill="#00FFCC"/>
<path d="M71 439.4 L75.5 440.2 L83.2 441.5 L92.9 443.1 L102.9 444.8 L111.9 446.2 L118.4 447 L124.7 447.5 L133.3 447.9 L143 448.4 L152.7 448.7 L161.3 449 L167.7 449.1 L174.1 449.1 L182.8 448.9 L192.5 448.7 L202.2 448.5 L210.9 448.3 L217.4 448.3 L224.1 448.5 L233.2 448.9 L243.5 449.3 L253.6 449.8 L262.3 450.2 L268.2 450.4 L273.1 450.5 L279 450.5 L285.3 450.5 L291.3 450.4 L296.5 450.4 L300 450.4 L302.7 450.4 L305.8 450.3 L309 450.3 L312.4 450.3 L315.7 450.3 L319 450.4 L323.9 450.7 L331.4 451.3 L340.2 452 L349.4 452.7 L357.5 453.3 L363.5 453.5 L369.3 453.3 L377.2 452.8 L386.1 452.1 L395.1 451.5 L403.1 451 L409.2 450.9 L415.4 451.2 L423.8 451.9 L433.3 452.8 L443.2 453.9 L452.4 455 L460 456 L469.8 457.6 L484.4 460.2 L501.2 463.3 L517.8 466.3 L531.5 468.9 L540 470.4 L544.7 471.2 L548.8 472 L552.3 472.6 L555.1 473.1 L557.4 473.5 L559 473.7 L560 473.8 L560.7 473.9 L561.3 473.9 L562.2 473.8 L563.4 473.8 L565.4 473.7 L569.6 473.6 L576.4 473.4 L584.8 473.1 L593.6 472.8 L601.4 472.6 L607.3 472.5 L613.2 472.4 L621.3 472.3 L630.5 472.3 L639.7 472.3 L648 472.3 L654.3 472.5 L660.7 473 L669.5 473.9 L679.5 475 L689.6 476.1 L698.4 477 L705 477.5 L711.8 477.7 L721 477.7 L731.4 477.7 L741.5 477.6 L749.8 477.5 L755 477.5 L757.9 477.6 L760.3 477.7 L762.3 477.8 L764.2 478 L766.1 478.1 L768.2 478.3 L771.4 478.5 L776.3 478.8 L782.2 479.2 L788.4 479.7 L794.2 480.2 L799 480.8 L804.9 481.8 L813.5 483.5 L823.6 485.5 L833.8 487.6 L842.9 489.2 L849.5 490.2 L855.8 490.6 L864.2 490.9 L873.6 491.1 L883.1 491.2 L891.5 491.3 L897.8 491.5 L904.7 491.9 L914.4 492.4 L925.2 493 L935.7 493.7 L944.1 494.2 L949 494.5 L951 494.5 L951 700 L69 700 L69 439.4 Z" fill="#00FFA5"/>
<path d="M71 455 L75 455.6 L79 456.1 L83 456.7 L87 457.2 L91 457.7 L95 458.3 L99 458.8 L103 459.3 L107 459.8 L111 460.3 L115 460.8 L119 461.2 L123 461.6 L127 461.9 L131 462.2 L135 462.5 L139 462.7 L143 463 L147 463.2 L151 463.5 L155 463.7 L159 463.9 L163 464.1 L167 464.3 L171 464.4 L175 464.5 L179 464.6 L183 464.6 L187 464.7 L191 464.7 L195 464.7 L199 464.8 L203 464.8 L207 464.8 L211 464.9 L215 464.9 L219 465 L223 465.1 L227 465.3 L231 465.4 L235 465.6 L239 465.7 L243 465.9 L247 466.1 L251 466.2 L255 466.4 L259 466.5 L263 466.7 L267 466.8 L271 466.9 L275 467 L279 467.1 L283 467.2 L287 467.2 L291 467.3 L295 467.3 L299 467.4 L303 467.4 L307 467.5 L311 467.5 L315 467.6 L319 467.8 L323 468 L327 468.3 L331 468.6 L335 468.8 L339 469.1 L343 469.4 L347 469.7 L351 469.9 L355 470.2 L359 470.3 L363 470.5 L367 470.4 L371 470.2 L375 470 L379 469.7 L383 469.5 L387 469.2 L391 469 L395 468.7 L399 468.5 L403 468.3 L407 468.3 L411 468.4 L415 468.7 L419 469.2 L423 469.6 L427 470.1 L431 470.6 L435 471.1 L439 471.6 L443 472.1 L447 472.7 L451 473.3 L455 473.9 L459 474.6 L463 475.4 L467 476.2 L471 477.1 L475 478.1 L479 479 L483 479.9 L487 480.9 L491 481.8 L495 482.8 L499 483.7 L503 484.5 L507 485.2 L511 485.8 L515 486.4 L519 486.9 L523 487.4 L527 487.9 L531 488.5 L535 489 L539 489.5 L543 490 L547 490.6 L551 491.1 L555 491.6 L559 492.1 L563 492.3 L567 492.4 L571 492.5 L575 492.7 L579 492.8 L583 492.9 L587 493 L591 493.1 L595 493.1 L599 493.2 L603 493.2 L607 493.2 L611 492.9 L615 492.6 L619 492.2 L623 491.9 L627 491.5 L631 491.1 L635 490.7 L639 490.3 L643 490 L647 489.7 L651 489.4 L655 489.3 L659 489.6 L663 490.2 L667 491.1 L671 491.9 L675 492.9 L679 493.9 L683 494.9 L687 495.9 L691 496.9 L695 497.9 L699 498.9 L700 499.1 L720 496.6 L732.2 497.2 L753.5 498.1 L779.7 499.3 L806.7 500.8 L830.5 502.4 L847 504.2 L861.8 507.4 L881.4 512.8 L902.8 519.1 L923.1 525.3 L939.5 530.5 L949 533.4 L951 533.4 L951 700 L69 700 L69 455 Z" fill="#00FA84"/>
<path d="M71 470.7 L79.9 471.6 L95.3 473.1 L114.4 475 L134.6 476.9 L153.3 478.5 L167.7 479.6 L184.4 480.4 L208.8 481.3 L236.8 482.3 L264.1 483.2 L286.5 483.9 L300 484.4 L306.2 484.6 L310.2 484.8 L312.8 484.8 L314.6 484.9 L316.4 485 L319 485.1 L323.9 485.4 L331.4 485.8 L340.2 486.4 L349.4 486.9 L357.5 487.3 L363.5 487.5 L369.3 487.3 L377.2 486.9 L386.1 486.4 L395.1 485.9 L403.1 485.6 L409.2 485.7 L415.7 486.3 L424.6 487.5 L434.7 489.1 L444.8 490.7 L453.6 492.3 L460 493.5 L465.9 495 L473.6 497.2 L482.1 499.7 L490.5 502.1 L497.9 504.2 L503.2 505.5 L508.3 506.2 L515.1 506.9 L522.5 507.5 L529.8 508.1 L535.9 508.5 L540 508.8 L542.9 509.1 L545.9 509.4 L549.1 509.6 L552.3 509.9 L555.6 510.2 L559 510.5 L564.2 510.9 L572.3 511.7 L582 512.5 L591.9 513.3 L600.8 513.7 L607.3 513.8 L613.8 513 L622.6 511.5 L632.5 509.6 L642.4 507.7 L650.9 506.4 L656.8 506 L662.1 506.9 L668.7 509 L675.9 511.6 L682.9 514.4 L688.6 516.7 L692.4 518.2 L694.9 519.1 L697.5 520.1 L700 521.1 L702.3 522 L704.4 522.6 L706 523 L707.7 523.1 L709.9 523 L712.4 522.7 L715 522.5 L717.6 522.2 L720 522 L723.3 521.7 L728.1 521.3 L734 520.9 L740.1 520.4 L745.8 520.2 L750.5 520.2 L756.1 520.7 L764.4 521.6 L774 522.8 L783.8 524 L792.5 525.1 L799 525.8 L805.7 526.4 L815 527.1 L825.5 527.9 L835.7 528.7 L844.2 529.5 L849.5 530.3 L852.7 531.4 L855.8 533 L858.6 534.9 L861.1 536.9 L863.1 538.6 L864.7 540 L866.3 541.4 L868.2 543.2 L870.3 545.3 L872.3 547.6 L873.9 549.6 L874.9 551.4 L875.3 553.6 L875.6 556.8 L875.7 560.6 L875.8 564.5 L875.9 567.9 L876.2 570.5 L876.8 573.1 L877.7 576.5 L878.8 580.5 L880.1 584.4 L881.3 588 L882.5 590.8 L884.1 593.9 L886.5 598.4 L889.4 603.4 L892.5 608.3 L895.4 612.4 L897.8 614.9 L900.7 616.2 L905 617.3 L910.1 618.2 L915.2 619 L919.7 619.5 L923.1 620 L926.6 620.5 L931.5 621.2 L937 621.8 L942.3 622.5 L946.5 623 L949 623.3 L951 623.3 L951 700 L69 700 L69 470.7 Z" fill="#00FF48"/>
<path d="M71 486.4 L75 486.6 L79 486.8 L83 486.9 L87 487.1 L91 487.2 L95 487.4 L99 487.6 L103 487.8 L107 488 L111 488.2 L115 488.5 L119 488.9 L123 489.4 L127 490 L131 490.6 L135 491.2 L139 491.9 L143 492.5 L147 493.2 L151 493.8 L155 494.5 L159 495.1 L163 495.7 L167 496.3 L171 496.7 L175 497.1 L179 497.5 L183 497.9 L187 498.3 L191 498.6 L195 499 L199 499.3 L203 499.6 L207 500 L211 500.3 L215 500.6 L219 500.9 L223 501.2 L227 501.5 L231 501.8 L235 502.1 L239 502.4 L243 502.7 L247 503 L251 503.2 L255 503.5 L259 503.8 L263 504.1 L267 504.3 L271 504.6 L275 504.9 L279 505.2 L283 505.4 L287 505.7 L291 506 L295 506.3 L299 506.5 L303 506.8 L307 507 L311 507.1 L315 507.2 L319 507.4 L323 507.5 L327 507.7 L331 507.9 L335 508.1 L339 508.3 L343 508.5 L347 508.7 L351 509 L355 509.2 L359 509.4 L363 509.7 L367 509.8 L371 509.9 L375 509.9 L379 510 L383 510 L387 510.1 L391 510.1 L395 510.2 L399 510.3 L403 510.4 L407 510.5 L411 510.8 L415 511.2 L419 511.6 L423 512 L427 512.4 L431 512.8 L435 513.2 L439 513.7 L443 514.2 L447 514.6 L451 515.1 L455 515.6 L459 516.2 L463 516.9 L467 517.7 L471 518.6 L475 519.5 L479 520.4 L483 521.3 L487 522.2 L491 523.1 L495 524 L499 524.9 L503 525.6 L507 526.2 L511 526.6 L515 526.8 L519 527 L523 527.1 L527 527.2 L531 527.3 L535 527.4 L539 527.5 L543 527.7 L547 528 L551 528.2 L555 528.5 L559 528.8 L563 528.9 L567 529.2 L571 529.6 L575 530 L579 530.3 L583 530.7 L587 531 L591 531.4 L595 531.7 L599 532 L603 532.3 L607 532.6 L611 532.6 L615 532.7 L619 532.6 L623 532.5 L624 532.5 L640 527.5 L641.3 527.4 L643.7 527.2 L646.6 527 L649.6 526.9 L652.3 526.8 L654.3 527 L656.2 527.5 L658.9 528.4 L661.8 529.5 L664.9 530.8 L667.7 532 L670 533 L672.6 534.4 L676.4 536.5 L680.8 539 L685.2 541.4 L689.3 543.5 L692.4 544.8 L695.5 545.6 L699.5 546.3 L704.2 546.9 L709.3 547.6 L714.7 548.2 L720 548.9 L728.6 550 L742.3 551.7 L758.6 553.7 L774.7 555.7 L788.1 557.6 L796.2 559 L800.4 560.3 L804 562 L806.9 564 L809.2 566.1 L810.6 568.3 L811.4 570.5 L811.1 573.9 L809.7 579.3 L807.8 585.6 L805.8 592 L804.3 597.4 L803.8 601 L804 603.5 L804.5 606.3 L805.5 609.2 L807.2 612 L810 614.4 L814 616.2 L822.5 618.1 L836.9 620.7 L854.4 623.6 L872.2 626.4 L887.6 628.7 L897.8 630.1 L905.9 631 L915.9 631.8 L926.5 632.6 L936.5 633.2 L944.4 633.7 L949 634 L951 634 L951 700 L69 700 L69 486.4 Z" fill="#55FF00"/>
<path d="M71 502.2 L75.5 502.1 L83.2 502 L92.9 501.8 L102.9 501.7 L111.9 501.8 L118.4 502.2 L124.7 503.3 L133.3 505.1 L143 507.4 L152.7 509.7 L161.3 511.8 L167.7 513.1 L173.9 514.1 L182 515.3 L191.3 516.6 L200.8 517.9 L209.8 519.1 L217.4 520 L227.4 521.1 L242.4 522.8 L259.9 524.6 L277 526.4 L291.3 527.9 L300 528.8 L304.6 529.2 L308.3 529.4 L311.4 529.5 L314.1 529.5 L316.5 529.5 L319 529.6 L322.5 529.7 L327.4 529.9 L333.2 530.1 L339.4 530.3 L345.5 530.6 L350.8 530.9 L358.1 531.4 L369.1 532.3 L382 533.4 L395.1 534.5 L406.5 535.4 L414.3 536 L420.8 536.5 L428.9 537 L437.7 537.5 L446.4 538.1 L454.1 538.7 L460 539.2 L466.3 540.1 L474.9 541.4 L484.6 543 L494.2 544.5 L502.5 545.8 L508.2 546.5 L513 546.7 L518.9 546.8 L525.2 546.6 L531.3 546.5 L536.4 546.3 L540 546.3 L543 546.4 L546.6 546.5 L550.5 546.6 L554.1 546.8 L557.1 546.9 L559 547 L560 547 L560.7 547 L561.3 546.9 L562.2 546.9 L563.4 546.9 L565.4 547.1 L569.5 547.5 L576.2 548.1 L584.4 548.9 L593 549.8 L601 550.7 L607.3 551.4 L614.5 552.4 L624.8 554 L636.8 555.8 L648.9 557.6 L659.4 559.2 L667 560.3 L674 561.2 L683.2 562.3 L693.4 563.5 L703.4 564.7 L711.9 565.8 L717.8 566.7 L722.8 567.7 L729 569.2 L735.6 571 L742 572.7 L747.3 574.3 L750.8 575.6 L753.5 577 L756.6 579 L759.7 581.2 L762.6 583.5 L764.8 585.5 L766 587 L766.4 588.5 L766.2 590.4 L765.8 592.6 L765.1 594.8 L764.3 596.8 L763.5 598.4 L762.2 600.3 L760.1 603 L757.6 606.1 L755.1 609.2 L753.1 611.9 L752 613.6 L751.6 614.9 L751.6 616.3 L751.7 617.8 L752.1 619.2 L752.6 620.4 L753.3 621.3 L754.5 622.1 L756.5 623.1 L759 624.1 L761.8 625.2 L764.5 626.2 L767 627 L770.7 628 L776.5 629.5 L783.3 631.3 L790.1 633 L795.7 634.4 L799 635.2 L799.6 635.5 L798.5 635.6 L797.2 635.6 L796.7 635.6 L798.5 635.7 L803.8 636 L818.8 636.9 L844.9 638.5 L876.6 640.3 L908.2 642.2 L934.2 643.7 L949 644.6 L951 644.6 L951 700 L69 700 L69 502.2 Z" fill="#FFFFFF"/>
<path d="M71 559.9 L75 560.1 L82 560.6 L90.6 561.1 L99.3 561.6 L106.5 562 L110.8 562.3 L112.6 562.4 L113.6 562.5 L114.2 562.6 L115 562.7 L116.2 562.7 L118.4 562.6 L123.3 562.4 L131.5 562 L141.5 561.5 L151.8 561.1 L161 560.7 L167.7 560.5 L173.9 560.5 L182 560.6 L191.3 560.7 L200.8 560.9 L209.8 561.1 L217.4 561.3 L227.4 561.5 L242.4 561.9 L259.9 562.4 L277 562.9 L291.3 563.3 L300 563.5 L304.1 563.6 L306.9 563.6 L309 563.5 L311.3 563.5 L314.3 563.7 L319 564 L329 564.9 L345.7 566.3 L365.6 568.1 L385.9 569.9 L403.1 571.4 L414.3 572.3 L421.7 572.6 L429.6 572.8 L437.7 572.9 L445.7 572.9 L453.2 572.9 L460 573.1 L469.6 573.5 L484.1 574.2 L501 575 L517.7 575.9 L531.5 576.6 L540 577 L544.4 577.2 L547.8 577.4 L550.7 577.5 L553.3 577.7 L555.9 577.9 L559 578.1 L564.4 578.6 L573 579.4 L583.1 580.3 L593.3 581.3 L601.9 582.1 L607.3 582.8 L610.7 583.4 L614 584.2 L617.3 585.2 L620.4 586.2 L623.5 587.2 L626.3 588.2 L630.5 589.7 L636.9 592.2 L644.4 595 L651.9 597.9 L658.1 600.5 L661.9 602.2 L664 603.6 L665.8 605.4 L667.3 607.3 L668.8 609.2 L670.3 611 L672 612.4 L674.8 614.1 L679.1 616.6 L684.2 619.4 L689.5 622.3 L694.1 624.7 L697.4 626.3 L700.4 627.5 L704.2 628.8 L708.5 630.3 L712.8 631.7 L716.8 632.9 L720 634 L723.7 635.3 L729 637.1 L735.1 639.2 L741.4 641.3 L747.3 643.2 L752 644.6 L757.9 646.1 L766.5 648.1 L776.5 650.4 L786.3 652.6 L794.3 654.4 L799 655.5 L800.9 656 L801.7 656.4 L801.8 656.7 L801.9 656.9 L802.4 657.1 L803.8 657.3 L807.3 657.5 L813.2 657.8 L820.3 658.2 L827.7 658.5 L834.4 658.9 L839.3 659.3 L844.4 659.9 L851.6 660.9 L859.7 662 L867.5 663.2 L873.8 664.1 L877.4 664.6 L877.4 700 L69 700 L69 559.9 Z" fill="#FFFF00"/>
<path d="M71 574 L75 574.3 L79 574.5 L83 574.7 L87 574.9 L91 575.1 L95 575.4 L99 575.6 L103 575.8 L107 576 L111 576.2 L115 576.5 L119 576.6 L123 576.6 L127 576.6 L131 576.6 L135 576.6 L139 576.6 L143 576.6 L147 576.5 L151 576.5 L155 576.5 L159 576.5 L163 576.5 L167 576.5 L171 576.6 L175 576.6 L179 576.7 L183 576.7 L187 576.7 L191 576.8 L195 576.8 L199 576.9 L203 576.9 L207 577 L211 577 L215 577.1 L219 577.1 L223 577.2 L227 577.2 L231 577.3 L235 577.4 L239 577.4 L243 577.5 L247 577.5 L251 577.6 L255 577.6 L259 577.7 L263 577.7 L267 577.8 L271 577.9 L275 577.9 L279 578 L283 578.1 L287 578.1 L291 578.2 L295 578.3 L299 578.4 L303 578.5 L307 578.5 L311 578.6 L315 578.8 L319 579 L323 579.3 L327 579.6 L331 579.9 L335 580.1 L339 580.4 L343 580.7 L347 581 L351 581.2 L355 581.5 L359 581.8 L363 582.1 L367 582.4 L371 582.6 L375 582.9 L379 583.2 L383 583.5 L387 583.7 L391 584 L395 584.3 L399 584.6 L403 584.8 L407 585.1 L411 585.4 L415 585.6 L419 585.9 L423 586.1 L427 586.3 L431 586.5 L435 586.7 L439 586.9 L443 587.1 L447 587.3 L451 587.5 L455 587.8 L459 588 L463 588.2 L467 588.5 L471 588.7 L475 588.9 L479 589.2 L483 589.4 L487 589.6 L491 589.9 L495 590.1 L499 590.4 L500 590.4 L540 595.6 L546 595.9 L556.4 596.5 L569.2 597.3 L582.2 598.1 L593.1 598.9 L600 599.5 L604.1 600.3 L608 601.4 L611.8 602.7 L615.4 604.1 L618.6 605.4 L621.3 606.6 L624.6 608.2 L629.1 610.5 L634.4 613.3 L639.9 616.1 L645.1 618.7 L649.4 620.6 L655 622.7 L663.5 625.7 L673.3 629.2 L683 632.5 L691.1 635.3 L696.3 637 L699.5 638 L702.7 638.8 L705.7 639.6 L708.6 640.2 L711.2 640.8 L713.4 641.4 L716.3 642.2 L720.4 643.4 L725.2 644.9 L729.9 646.3 L734 647.5 L736.9 648.4 L739.3 649.1 L742.3 650.1 L745.6 651.1 L748.8 652.1 L751.7 653 L753.9 653.7 L756.2 654.5 L759.4 655.7 L763 657 L766.6 658.3 L769.7 659.5 L772 660.2 L774.2 660.8 L777 661.4 L780.2 662.1 L783.2 662.8 L785.7 663.3 L787.3 663.7 L788.3 664 L789.3 664.4 L790.2 664.7 L791 665.1 L791.6 665.3 L792 665.5 L792 700 L69 700 L69 574 Z" fill="#FFD800"/>
<path d="M71 588.2 L80.2 588.6 L96.1 589.4 L115.7 590.4 L136.2 591.3 L154.5 592.1 L167.7 592.6 L180.7 592.8 L198.6 592.9 L218.7 593 L238.2 593 L254.5 593 L265 593 L271.8 593 L278.8 593.1 L285.4 593.1 L291.5 593.2 L296.5 593.2 L300 593.3 L302.5 593.4 L304.8 593.4 L307.2 593.5 L310.2 593.7 L314 593.9 L319 594.1 L329 594.6 L345.7 595.4 L365.6 596.4 L385.9 597.4 L403.1 598.3 L414.3 598.9 L421.9 599.5 L430.3 600.2 L438.9 601 L447.1 601.8 L454.3 602.5 L460 603 L466.3 603.5 L474.9 604.1 L484.6 604.8 L494.2 605.4 L502.5 606 L508.2 606.5 L513 607 L518.9 607.7 L525.2 608.4 L531.3 609.2 L536.4 609.8 L540 610.3 L542.7 610.7 L545.7 611.1 L548.9 611.6 L552.2 612.1 L555.6 612.5 L559 612.9 L564.4 613.3 L573 613.8 L583.1 614.4 L593.2 615 L601.8 615.7 L607.3 616.3 L610.9 617.2 L614.6 618.7 L618.3 620.5 L621.8 622.3 L624.9 624 L627.5 625.3 L630.4 626.8 L634.4 629 L639 631.5 L643.8 634.1 L648.5 636.3 L652.5 637.8 L658 639.2 L666.4 640.9 L676.1 642.8 L685.8 644.6 L694.1 646.2 L699.4 647.2 L702.9 647.9 L706.5 648.6 L710.2 649.3 L713.7 650.1 L717.1 650.9 L720 651.7 L724.2 653.2 L730.5 655.5 L737.7 658.3 L744.8 661 L750.6 663.2 L753.9 664.5 L753.9 700 L69 700 L69 588.2 Z" fill="#FFC000"/>
<path d="M71 606.5 L79.9 606.7 L95.3 606.9 L114.4 607.3 L134.6 607.6 L153.3 607.9 L167.7 608 L184.4 608 L208.8 607.8 L236.8 607.6 L264.1 607.4 L286.5 607.3 L300 607.3 L305.5 607.5 L308.1 607.9 L309.2 608.3 L310.3 608.9 L313.1 609.4 L319 609.8 L333.5 610.3 L357.8 611.1 L387.2 612.1 L417.2 613.1 L443 614.1 L460 614.9 L472.6 616 L487.3 617.7 L502.8 619.7 L517.6 621.6 L530.5 623.3 L540 624.5 L549.4 625.4 L561.9 626.4 L575.7 627.6 L589 628.7 L600.1 629.8 L607.3 630.8 L612.1 632.2 L617.1 634.2 L621.9 636.6 L626.4 639 L630.5 641.1 L633.8 642.5 L637.7 643.6 L643 645 L649.1 646.6 L655.3 648 L660.8 649.3 L665 650.3 L669.5 651.3 L675.8 652.8 L682.8 654.4 L689.8 655.9 L695.6 657.2 L699.4 658 L701.9 658.5 L704.6 658.9 L707.3 659.3 L709.7 659.6 L711.8 659.9 L713.4 660.2 L715 660.6 L717.2 661.2 L719.5 662 L721.8 662.7 L723.7 663.3 L725 663.7 L725.9 664 L726.9 664.4 L727.9 664.7 L728.9 665.1 L729.6 665.3 L730 665.5 L730 700 L69 700 L69 606.5 Z" fill="#FFA000"/>
<path d="M71 618 L74.7 618.2 L81.2 618.4 L89.1 618.8 L97.1 619.1 L103.8 619.4 L108 619.6 L110.3 619.7 L112.5 619.9 L114.5 620 L116.3 620.1 L117.8 620.2 L119 620.2 L120.2 620.2 L121.5 620.1 L123.1 620 L124.9 619.9 L127 619.7 L129.3 619.6 L133.4 619.3 L140 618.9 L148 618.3 L156.1 617.8 L163.2 617.5 L168 617.3 L172 617.4 L176.9 617.7 L182.2 618.2 L187.4 618.7 L191.9 619.1 L195.2 619.4 L198.4 619.7 L202.5 620.1 L207 620.5 L211.6 621 L215.6 621.4 L218.6 621.7 L221.8 622.1 L226.1 622.7 L231 623.3 L235.7 624 L239.6 624.6 L242 625 L243.4 625.4 L244.7 625.8 L245.9 626.3 L246.8 626.8 L247.5 627.3 L247.9 627.6 L248.1 628 L248.1 628.5 L248 629.1 L247.8 629.6 L247.6 630.1 L247.3 630.5 L246.9 630.8 L246.3 631.3 L245.5 631.8 L244.5 632.3 L243.3 632.7 L242 632.9 L239.5 633 L235.3 633.1 L230.3 633.1 L225.3 633.1 L221.1 633.2 L218.6 633.2 L217.4 633.2 L216.7 633.3 L216.1 633.3 L215.5 633.5 L214.9 633.7 L213.9 634 L212 634.7 L208.8 635.9 L205 637.4 L201.1 638.9 L197.7 640.2 L195.2 641.1 L192.8 641.9 L189.7 642.8 L186.1 643.9 L182.7 644.9 L179.7 645.8 L177.6 646.3 L176.1 646.7 L174.6 647.1 L172.9 647.5 L170.9 647.8 L168.6 648 L165.9 648.1 L160.8 648 L152.5 647.6 L142.6 647.2 L132.6 646.8 L124.1 646.5 L118.7 646.6 L115.2 647.2 L111.3 648.2 L107.6 649.6 L104.2 651 L101.6 652.2 L100 653 L99.3 653.7 L99 654.5 L99 655.4 L99.2 656.3 L99.6 657.1 L100 657.7 L100.8 658.3 L102.1 659 L103.7 659.9 L105.4 660.7 L107 661.4 L108.2 661.8 L109.5 662 L111.4 662.2 L113.5 662.3 L115.7 662.3 L117.6 662.4 L119 662.4 L120.2 662.4 L121.7 662.3 L123.4 662.2 L125.3 662.1 L127.3 661.9 L129.3 661.8 L132.6 661.6 L137.9 661.2 L144.2 660.8 L150.5 660.4 L156.1 660 L160 659.8 L163.2 659.6 L167.2 659.4 L171.5 659.2 L175.9 659 L180 658.8 L183.4 658.6 L187.5 658.4 L193.3 658.1 L200.1 657.7 L207.1 657.3 L213.5 657 L218.6 656.9 L224.5 656.9 L233.1 657 L242.9 657.2 L252.6 657.4 L260.6 657.5 L265.5 657.5 L268.2 657.4 L270.4 657.1 L272.3 656.7 L273.9 656.3 L275.5 656 L277.2 655.7 L279.8 655.4 L283.7 654.9 L288.3 654.3 L293 653.8 L297.1 653.3 L300 653 L302.7 652.8 L306.2 652.5 L310.1 652.3 L313.9 652 L317 651.8 L319 651.7 L320 651.6 L320.7 651.5 L321.3 651.4 L322.1 651.3 L323.4 651.2 L325.4 651.2 L329.8 651.2 L337.2 651.2 L346.2 651.2 L355.3 651.1 L363.3 651.1 L368.6 651 L372.6 650.7 L377.2 650.3 L382.3 649.7 L387.3 649.2 L392.2 648.8 L396.5 648.7 L402.5 648.9 L411.7 649.4 L422.4 650.1 L433 650.8 L441.8 651.4 L447.3 651.7 L450.3 651.9 L453 652 L455.4 652.2 L457.5 652.2 L459.4 652.3 L461 652.3 L463 652.3 L465.7 652.2 L468.8 652.1 L472 651.9 L475.1 651.6 L477.8 651.2 L481.3 650.2 L486.4 648.5 L492.4 646.5 L498.6 644.4 L504.1 642.7 L508.2 641.6 L512.4 640.9 L518.1 640.2 L524.6 639.5 L531 638.8 L536.4 638.3 L540 638 L542.5 637.7 L545.1 637.3 L547.9 636.9 L550.8 636.7 L553.9 636.7 L557.2 637 L562.7 638.1 L571.4 640.1 L581.8 642.6 L592.3 645.1 L601.3 647.3 L607.3 648.8 L611.8 650 L617 651.4 L622.5 652.9 L627.9 654.4 L632.8 655.6 L636.9 656.6 L642.1 657.6 L649.6 658.9 L658.3 660.3 L666.7 661.7 L673.5 662.9 L677.5 663.6 L679.1 664 L679.7 664.3 L679.8 664.6 L679.5 664.8 L679.1 664.9 L679 665 L679 700 L69 700 L69 618 Z" fill="#FF8800"/>
<path d="M71 629.6 L83.6 636 L71 639.5 Z" fill="#FF6600"/>
<ellipse cx="261.1" cy="635.1" rx="6" ry="1.3" fill="#FF8800"/>
<path d="M71 665.6 L150 665.3 L330 665 L420 664.3 L700 664.2 L800 665 L949 665.8 L949 695 L71 695 Z" fill="#A0522D"/>
<rect x="119.3" y="663.4" width="30.5" height="1.7" fill="#fff"/>
<g class="gv">
<line x1="167.7" y1="44.8" x2="167.7" y2="695"/>
<line x1="314.2" y1="44.8" x2="314.2" y2="695"/>
<line x1="460.7" y1="44.8" x2="460.7" y2="695"/>
<line x1="607.2" y1="44.8" x2="607.2" y2="695"/>
<line x1="753.8" y1="44.8" x2="753.8" y2="695"/>
<line x1="900.3" y1="44.8" x2="900.3" y2="695"/>
</g>
<g class="gh">
<line x1="68.6" y1="124.4" x2="949" y2="124.4"/>
<line x1="68.6" y1="197" x2="949" y2="197"/>
<line x1="68.6" y1="258.4" x2="949" y2="258.4"/>
<line x1="68.6" y1="311.5" x2="949" y2="311.5"/>
<line x1="68.6" y1="358.4" x2="949" y2="358.4"/>
<line x1="68.6" y1="400.4" x2="949" y2="400.4"/>
<line x1="68.6" y1="438.3" x2="949" y2="438.3"/>
<line x1="68.6" y1="473" x2="949" y2="473"/>
<line x1="68.6" y1="504.9" x2="949" y2="504.9"/>
<line x1="68.6" y1="534.4" x2="949" y2="534.4"/>
<line x1="68.6" y1="561.8" x2="949" y2="561.8"/>
<line x1="68.6" y1="587.5" x2="949" y2="587.5"/>
<line x1="68.6" y1="611.7" x2="949" y2="611.7"/>
<line x1="68.6" y1="634.4" x2="949" y2="634.4"/>
<line x1="68.6" y1="656" x2="949" y2="656"/>
<line x1="68.6" y1="676.4" x2="949" y2="676.4"/>
</g>
<g mask="url(#lm)">
<path class="dash" d="M71 102.5 L74.7 102.5 L81.1 102.6 L88.9 102.6 L97.2 102.7 L104.6 102.8 L110 103 L115.5 103.4 L123.1 104 L131.6 104.8 L140 105.5 L146.9 106.1 L151.4 106.5 L154.2 106.6 L157 106.7 L159.7 106.7 L162.1 106.6 L164.2 106.6 L166 106.5 L167.9 106.4 L170.3 106.3 L173.1 106.2 L176.1 106 L179.1 105.8 L181.9 105.5 L186 105 L192.4 104.1 L199.9 103.1 L207.7 102.1 L214.7 101.3 L220 101 L225.4 101.3 L233 102.1 L241.5 103.1 L250.1 104 L257.6 104.8 L263 105 L268.1 104.6 L275 103.6 L282.5 102.3 L289.8 101 L296 99.7 L300 98.9 L302.6 98.2 L305.2 97.4 L307.9 96.4 L310.6 95.4 L313.4 94.4 L316.5 93.3 L321.5 91.6 L329.3 88.8 L338.7 85.6 L348.4 82.3 L357.1 79.6 L363.5 78 L370 77.1 L378.8 76.4 L388.8 75.7 L398.8 75.2 L407.6 74.7 L414 74.3 L420.1 73.7 L428.2 72.9 L437.3 71.9 L446.3 71 L454.2 70.3 L460 70 L465.7 70.2 L473.3 70.8 L481.8 71.6 L490.3 72.4 L497.7 72.9 L503 73 L508.1 72.3 L514.9 71 L522.4 69.3 L529.7 67.5 L535.9 66 L540 64.9 L543 64 L546.3 63 L549.7 61.8 L552.9 60.6 L555.7 59.4 L557.8 58.3 L560 56.7 L562.9 54.3 L566.1 51.4 L569.1 48.6 L571.6 46.3 L573 45"/>
<path class="dash" d="M949 93.8 L947.2 95 L943.9 97 L940 99.5 L936 102.1 L932.6 104.4 L930.4 106 L929.1 107.5 L927.7 109.6 L926.3 111.9 L925 114.1 L923.8 116.1 L922.8 117.5 L921.4 118.8 L919.4 120.5 L917.1 122.4 L914.9 124.2 L913.3 125.8 L912.7 126.8 L913.2 127.6 L914.5 128.6 L916.4 129.6 L918.6 130.5 L920.8 131.4 L922.8 132 L925.8 132.6 L930.6 133.5 L936.3 134.4 L941.8 135.3 L946.4 136.1 L949 136.5"/>
<path class="dash" d="M71 135.7 L74.7 135.5 L80.9 135.2 L88.8 134.9 L97.1 134.5 L104.8 134.4 L110.8 134.5 L117.7 135.1 L127.6 136.3 L139.1 137.7 L150.6 139.1 L160.6 140.3 L167.7 141 L173.8 141.2 L181.5 141.1 L189.9 140.9 L198.3 140.8 L205.9 140.8 L212 141 L219 141.8 L229 143.2 L240.5 145 L251.8 146.7 L261.5 148.2 L268 149 L273.1 149.3 L279.1 149.5 L285.4 149.6 L291.4 149.6 L296.5 149.7 L300 149.7 L302.8 149.8 L306.1 149.9 L309.5 150.1 L312.9 150.2 L316.2 150.4 L319 150.5 L322.8 150.7 L328.5 151.1 L335.1 151.4 L341.7 151.8 L347.3 152.1 L350.8 152.2 L353.1 152.2 L355.3 152.1 L357.6 151.9 L359.7 151.6 L361.7 151.1 L363.5 150.5 L365.8 149.3 L369.2 147.3 L373.2 144.8 L377.2 142.2 L380.9 139.7 L383.8 137.8 L386.9 135.4 L391.3 131.9 L396.4 127.8 L401.5 123.9 L406 120.6 L409.2 118.7 L412.2 117.9 L416.1 117.4 L420.5 117.1 L424.9 117 L428.9 117 L432 117 L435.3 117 L439.8 117.2 L445 117.3 L450.5 117.5 L455.6 117.6 L460 117.5 L465.7 117.1 L474.1 116.4 L484 115.5 L493.8 114.6 L502.4 113.9 L508.2 113.6 L513 113.7 L518.8 114 L525.1 114.4 L531.2 115 L536.4 115.4 L540 115.7 L542.8 116 L546.1 116.3 L549.6 116.7 L553.2 117 L556.8 117.2 L560.3 117.2 L565.4 116.6 L573.3 115.5 L582.7 114.2 L592.3 113 L600.9 112.3 L607.3 112.4 L613.8 114.1 L622.8 117.4 L632.9 121.4 L642.8 125.4 L651.2 128.6 L656.8 130.1 L660.9 129.9 L665.6 128.7 L670.5 126.9 L675.1 124.8 L679.2 122.8 L682.2 121.3 L685.3 119.5 L689.4 116.7 L693.9 113.6 L698.4 110.7 L702.3 108.6 L705 108 L707.3 109.4 L710.2 112.6 L713.4 116.8 L716.5 121.2 L719.4 125 L721.6 127.6 L724.2 129.6 L727.8 132.2 L731.9 134.9 L736 137.5 L739.5 139.7 L741.9 141 L743.8 141.8 L746.1 142.5 L748.6 143 L751.1 143.5 L753.3 143.8 L755 144 L756.8 144 L759.2 143.9 L762.1 143.7 L765 143.5 L767.9 143.1 L770.5 142.8 L774.1 142.1 L779.6 141 L786 139.6 L792.6 138.3 L798.2 137.3 L802.2 137 L805.6 137.4 L809.8 138.5 L814.4 139.9 L819 141.4 L823.1 142.9 L826.3 144.1 L829.8 145.6 L834.8 147.8 L840.4 150.3 L846.1 152.9 L850.9 155.2 L854.3 156.8 L857.1 158.2 L860.6 160.1 L864.5 162.2 L868.3 164.2 L871.8 165.8 L874.6 167 L877.8 168 L882.3 169.1 L887.6 170.4 L893 171.5 L898.2 172.4 L902.5 172.8 L908.2 172.7 L916.8 172.3 L926.8 171.6 L936.5 170.9 L944.5 170.3 L949 170"/>
<path class="dash" d="M71 167.5 L74.6 167.9 L80.9 168.5 L88.7 169.2 L97 170.1 L104.7 171.1 L110.8 172 L117.8 173.6 L127.9 176.2 L139.6 179.2 L151.4 182.2 L161.7 184.6 L169 185.8 L175.6 185.8 L184.2 185 L193.7 183.9 L203 182.6 L211.3 181.6 L217.4 181.2 L223.5 181.4 L231.6 182 L240.6 182.9 L249.6 183.8 L257.4 184.6 L263 185.2 L268.2 185.7 L274.9 186.4 L282.3 187.2 L289.5 187.9 L295.7 188.6 L300 189 L303.6 189.3 L308.1 189.7 L312.9 190.1 L317.6 190.4 L321.9 190.7 L325.4 190.8 L329.3 190.7 L334.6 190.5 L340.9 190.1 L347.3 189.8 L353.4 189.7 L358.4 189.8 L364.6 190.5 L373.8 191.9 L384.5 193.6 L395.3 195.1 L404.8 196.1 L411.7 196.2 L418.1 194.8 L426.6 192.2 L436 188.8 L445.4 185.1 L453.8 181.7 L460 179.2 L466.4 176.4 L475 172.4 L484.7 167.8 L494.3 163.3 L502.5 159.6 L508.2 157.3 L513 156 L518.9 154.8 L525.2 153.7 L531.3 152.8 L536.5 152.2 L540 151.7 L542.6 151.3 L545.3 150.8 L548.2 150.4 L551.3 150.1 L554.5 150.1 L557.8 150.5 L563.3 151.8 L572 154 L582.4 156.9 L592.8 159.8 L601.6 162.5 L607.3 164.4 L611 166.2 L615 168.5 L618.9 171.1 L622.7 173.8 L626.1 176.3 L628.9 178.4 L632.2 181 L636.7 184.8 L641.9 189.2 L647.4 193.6 L652.5 197.1 L656.8 199.2 L662.1 200.2 L669.8 200.8 L678.8 201.2 L688 201.4 L696.3 201.4 L702.5 201.2 L708.9 200.6 L717.8 199.5 L727.8 198 L737.9 196.5 L746.8 195.1 L753.3 194.1 L759.7 193 L768.4 191.3 L778.1 189.4 L787.6 187.7 L795.6 186.4 L801 186 L805 186.7 L809.6 188.3 L814.3 190.4 L818.9 192.7 L823 194.8 L826.3 196.2 L830 197.6 L835 199.6 L840.8 201.9 L846.7 204 L852.3 205.6 L856.8 206.3 L862.2 206 L870 205 L879 203.6 L888.2 202 L896.4 200.7 L902.5 200 L908.8 199.7 L917.6 199.5 L927.5 199.4 L936.9 199.3 L944.6 199.2 L949 199.2"/>
<path class="dash" d="M71 206.8 L74.7 206.9 L80.9 207 L88.8 207.2 L97.1 207.5 L104.8 207.9 L110.8 208.4 L117.5 209.4 L127 211.1 L138 213.1 L149.4 215.2 L159.7 216.8 L167.7 217.8 L176.6 218.1 L189.2 218.3 L203.7 218.3 L218.2 218.2 L230.9 218.2 L240 218.3 L248.5 218.7 L259.8 219.4 L272.2 220.3 L284.1 221.1 L293.9 221.9 L300 222.3 L303.2 222.5 L305.5 222.7 L307.4 222.9 L309.1 223 L311.1 223.1 L313.6 223.1 L318.2 223 L325.6 222.8 L334.4 222.6 L343.6 222.4 L352 222.2 L358.4 222.3 L365.3 222.7 L375.1 223.5 L386.3 224.4 L397.5 225.4 L407.3 226.2 L414.3 226.6 L420.9 226.7 L429.5 226.8 L439 226.7 L448.3 226.6 L456 226.5 L461 226.4 L464.4 226.3 L468 226.1 L471.5 225.9 L474.8 225.6 L477.7 225.4 L480 225.2 L482.5 225 L485.8 224.7 L489.6 224.4 L493.3 224 L496.6 223.7 L499 223.4 L501.1 223.1 L503.8 222.7 L506.9 222.2 L510 221.7 L513.1 221.2 L515.8 220.8 L519.7 220.2 L525.6 219.3 L532.5 218.2 L539.3 217.1 L545.1 216.1 L548.6 215.5 L550.6 215 L552.5 214.4 L554.2 213.8 L555.7 213.2 L556.9 212.8 L557.8 212.7 L558.4 212.9 L558.9 213.2 L559.5 213.8 L560.4 214.5 L561.8 215.3 L563.8 216.3 L567.8 218.1 L574.3 220.9 L582.3 224.4 L591 227.9 L599.6 230.9 L607 232.8 L617.4 234.2 L633.4 235.7 L652.1 237.3 L670.7 238.7 L686.2 239.8 L695.8 240.4 L701.1 240.5 L705.8 240.2 L710 239.7 L713.7 239.1 L717 238.4 L720 237.9 L723.9 237.2 L729.3 236.1 L735.6 234.9 L742.1 233.6 L748.1 232.4 L753 231.5 L758.7 230.5 L766.9 229.1 L776.5 227.5 L786.2 226.1 L794.8 225 L801.3 224.6 L807.8 225.2 L816.7 226.5 L826.7 228.3 L836.8 230.1 L845.6 231.6 L852 232.3 L858.1 232.3 L866 231.9 L874.9 231.3 L883.8 230.6 L891.7 230 L897.8 229.7 L904.6 229.6 L914.2 229.6 L925.1 229.6 L935.6 229.6 L944.1 229.7 L949 229.7"/>
<path class="dash" d="M71 235.1 L80.3 235.8 L96.5 237 L116.5 238.5 L137 240 L155.1 241.3 L167.4 242.3 L178 243.2 L191.7 244.4 L206.6 245.8 L220.9 247.1 L232.6 248.1 L240 248.8 L244.1 249.2 L247.4 249.4 L250.3 249.7 L253 249.8 L255.9 250 L259.2 250.2 L265.1 250.5 L274.2 250.9 L285.2 251.4 L296.5 251.9 L306.4 252.4 L313.6 252.6 L319.9 252.7 L328 252.8 L337.2 252.8 L346.7 252.9 L355.9 252.9 L364 253 L375.5 253.1 L393.1 253.4 L413.7 253.7 L434 253.9 L450.8 254.2 L461 254.4 L466.2 254.6 L470.2 254.9 L473.4 255.2 L476 255.6 L478.1 255.9 L480 256.1 L481.8 256.2 L483.8 256.4 L486.2 256.6 L489.3 256.8 L493.4 257.2 L499 257.7 L510 258.8 L528.3 260.7 L550.4 263 L573.1 265.3 L593 267.2 L607 268.3 L619.6 268.9 L636.3 269.4 L654.5 269.8 L672.1 270.1 L686.7 270.3 L695.8 270.4 L701.2 270.4 L706.1 270.3 L710.5 270.1 L714.3 269.9 L717.5 269.7 L720 269.6 L722.7 269.4 L726.1 269.2 L729.9 269 L733.6 268.7 L736.7 268.5 L739 268.3 L740.4 268.2 L741.7 268.1 L743.2 268 L745.3 267.8 L748.4 267.5 L753 267 L762.7 265.8 L779 263.6 L798.6 261.1 L818.6 258.6 L835.8 256.6 L847 255.6 L855.1 255.6 L864.3 256.2 L874 257.1 L883.3 258.1 L891.5 258.9 L897.8 259.4 L904.8 259.5 L914.5 259.6 L925.3 259.5 L935.7 259.5 L944.1 259.4 L949 259.4"/>
<path class="dash" d="M71 262.5 L80.6 263 L97.5 263.8 L118.1 264.7 L139 265.8 L156.6 266.7 L167.4 267.3 L173.4 267.9 L179 268.6 L184 269.5 L188.7 270.3 L192.9 271 L196.7 271.6 L202 272.2 L209.8 273 L218.7 273.9 L227.6 274.8 L235.1 275.5 L240 276 L243.1 276.3 L246.1 276.5 L249.2 276.7 L252.3 276.8 L255.7 277 L259.2 277.1 L264.9 277.2 L273.6 277.4 L284.2 277.6 L295.2 277.7 L305.5 277.9 L313.6 278 L323 278.1 L336.7 278.1 L352.5 278.2 L368.4 278.2 L382.4 278.4 L392.4 278.5 L402 278.8 L414.8 279.3 L428.9 280 L442.6 280.6 L453.9 281.1 L461 281.5 L465.2 281.7 L469 282 L472.4 282.3 L475.3 282.6 L477.9 282.8 L480 283 L481.8 283.2 L483.8 283.3 L486.2 283.5 L489.3 283.8 L493.4 284.2 L499 284.8 L509.9 286 L527.7 287.9 L549.5 290.2 L572 292.6 L592.2 294.5 L607 295.8 L622.1 296.6 L643.2 297.5 L666.8 298.3 L689.7 299 L708.6 299.6 L720 300 L725.5 300.2 L729.1 300.4 L731.6 300.5 L733.6 300.6 L735.9 300.7 L739 300.8 L745.1 301 L754.7 301.3 L766.2 301.7 L778 301.9 L788.6 301.8 L796.2 301.3 L803.6 299.6 L813.4 296.7 L824.5 293.1 L835.5 289.4 L845.1 286.5 L852 284.8 L858.2 284.3 L866.2 284.2 L875.1 284.4 L883.9 284.7 L891.7 285.1 L897.8 285.3 L904.6 285.4 L914.2 285.7 L925.1 286 L935.6 286.2 L944.1 286.5 L949 286.6"/>
<path class="dash" d="M71 288.2 L80.3 288.8 L96.5 289.9 L116.5 291.2 L137 292.5 L155.1 293.8 L167.4 294.7 L178 295.7 L191.7 297 L206.6 298.6 L220.9 300.1 L232.6 301.3 L240 302.1 L244.1 302.5 L247.3 302.9 L250.2 303.3 L252.8 303.6 L255.7 303.8 L259.2 303.9 L265.2 303.9 L274.6 303.8 L286 303.7 L297.8 303.5 L308.6 303.4 L317 303.4 L326.2 303.5 L339.3 303.6 L354.3 303.7 L369.4 303.9 L382.7 304.1 L392.4 304.4 L401.9 304.9 L414.6 305.7 L428.8 306.7 L442.5 307.7 L453.9 308.5 L461 309 L465.2 309.3 L469 309.5 L472.4 309.7 L475.3 309.9 L477.9 310.1 L480 310.2 L481.8 310.3 L483.8 310.4 L486.2 310.5 L489.3 310.7 L493.4 311 L499 311.5 L509.9 312.5 L527.7 314.1 L549.5 316.1 L572 318.2 L592.2 319.9 L607 321.1 L622.1 322 L643.2 323.1 L666.8 324.2 L689.7 325.3 L708.6 326.2 L720 326.7 L725.6 327 L729.7 327.2 L732.6 327.4 L734.8 327.6 L736.8 327.8 L739 328 L742.6 328.4 L747.8 329 L754 329.7 L760.2 330.5 L765.8 331.1 L770 331.5 L774.3 331.8 L780.3 332.1 L787.1 332.4 L793.8 332.7 L799.6 332.9 L803.5 333 L806.7 332.9 L810.4 332.8 L814.5 332.5 L818.5 332.2 L822.1 331.8 L825 331.5 L828.2 331.1 L832.5 330.4 L837.6 329.6 L842.8 328.7 L847.8 327.7 L852 326.7 L857.2 325 L865 322.2 L874 318.8 L883.2 315.6 L891.5 312.9 L897.8 311.5 L904.6 311.2 L914.2 311.4 L925.1 311.9 L935.6 312.6 L944.1 313.2 L949 313.5"/>
<path class="dash" d="M71 315.6 L80.5 316.6 L97.1 318.4 L117.4 320.6 L138.1 322.8 L155.9 324.6 L167.4 325.7 L175.6 326.2 L184.9 326.6 L194.5 326.8 L203.5 327 L211.1 327.1 L216.2 327.3 L220.1 327.5 L224.5 327.9 L229 328.3 L233.3 328.7 L237 329.1 L240 329.3 L243.1 329.5 L247.1 329.9 L251.8 330.2 L256.6 330.5 L261.3 330.7 L265.4 330.8 L270.6 330.6 L278.3 330.1 L287.5 329.5 L297.1 328.9 L306.1 328.5 L313.6 328.3 L322.8 328.5 L336.4 328.9 L352.2 329.5 L368.2 330.2 L382.3 330.8 L392.4 331.3 L402 331.9 L414.8 332.8 L428.9 333.9 L442.6 335 L453.9 335.9 L461 336.4 L465.2 336.7 L469 336.9 L472.4 337.1 L475.3 337.2 L477.9 337.3 L480 337.4 L481.8 337.5 L483.8 337.5 L486.2 337.5 L489.3 337.6 L493.4 337.9 L499 338.4 L510.3 339.6 L529.2 341.6 L552 344.1 L575 346.5 L594.5 348.5 L607 349.6 L614.9 349.8 L623.2 349.6 L631.4 349.2 L639.2 348.7 L646.5 348.3 L652.7 348.3 L661 348.8 L673.3 349.6 L687.4 350.8 L701.2 351.9 L712.8 352.8 L720 353.4 L723.7 353.7 L726.5 353.8 L728.9 354 L731.5 354.1 L734.7 354.4 L739 354.7 L747.9 355.5 L762.4 356.7 L779.9 358.2 L797.4 359.7 L812.3 360.9 L821.6 361.5 L827.2 361.7 L832.6 361.7 L837.8 361.5 L842.8 361.2 L847.5 360.6 L852 359.7 L858.5 357.7 L868.2 354.4 L879.6 350.3 L891.1 346.3 L901.1 343 L908 341.2 L914.1 340.8 L922 340.9 L930.6 341.5 L938.7 342.2 L945.2 342.9 L949 343.2"/>
<path class="dash" d="M71 343.3 L75.5 344.3 L83.3 346.1 L93 348.2 L103 350.4 L112.1 352.2 L118.6 353.3 L124.9 353.8 L133.5 354.2 L143.1 354.4 L152.7 354.6 L161.2 354.7 L167.4 354.8 L173.5 354.8 L181.6 354.7 L190.6 354.5 L199.5 354.3 L207.1 354.3 L212.3 354.3 L216.5 354.6 L221.7 355.1 L227.1 355.7 L232.3 356.3 L236.8 356.9 L240 357.2 L242.5 357.4 L245.4 357.6 L248.5 357.7 L251.9 357.9 L255.5 357.9 L259.2 357.9 L265.1 357.7 L274.3 357.3 L285.5 356.8 L297 356.4 L307.7 356.1 L316 356 L325.3 356.3 L338.5 356.9 L353.8 357.6 L369.1 358.4 L382.6 359.2 L392.4 359.7 L401.9 360.3 L414.7 361.1 L428.9 362.1 L442.5 363 L453.9 363.8 L461 364.3 L465.2 364.6 L469 365 L472.4 365.3 L475.3 365.6 L477.9 365.9 L480 366.1 L481.8 366.2 L483.8 366.3 L486.2 366.3 L489.3 366.5 L493.4 366.8 L499 367.4 L510.3 368.8 L529.1 371.2 L551.8 374 L574.8 376.9 L594.4 379.2 L607 380.6 L615.4 381.1 L624.5 381.4 L633.7 381.4 L642.5 381.4 L650.5 381.3 L657 381.3 L665 381.4 L676.5 381.5 L689.7 381.5 L702.5 381.6 L713.3 381.7 L720 381.8 L723.5 381.8 L726 381.9 L728.3 381.9 L730.8 382 L734.2 382.3 L739 382.6 L748.9 383.5 L765.3 385 L785 386.8 L805.1 388.5 L822.5 389.8 L834.3 390.2 L843.7 389.5 L855.3 387.7 L867.7 385.5 L879.8 383.2 L890.2 381.2 L897.8 380 L905.2 379.3 L915 378.5 L925.8 377.8 L936 377.1 L944.2 376.6 L949 376.3"/>
<path class="dash" d="M71 376.9 L75.5 377.9 L83.3 379.6 L93 381.7 L103 383.9 L112.1 385.6 L118.6 386.6 L125 387 L133.6 387.2 L143.4 387.2 L153.1 387.2 L161.5 387.1 L167.4 387 L172.8 386.8 L179.7 386.4 L187.3 385.9 L194.6 385.4 L200.6 384.9 L204.5 384.7 L206.9 384.6 L209.2 384.6 L211.4 384.6 L213.5 384.6 L215.3 384.7 L217 384.7 L219.2 384.8 L222.3 384.8 L226 385 L229.7 385.1 L233.2 385.2 L235.8 385.3 L238.5 385.5 L242 385.7 L246.2 386 L250.6 386.3 L255.1 386.5 L259.2 386.6 L265 386.5 L273.8 386.1 L284.3 385.7 L295.3 385.3 L305.5 385.1 L313.6 385.1 L323 385.5 L336.7 386.4 L352.5 387.5 L368.4 388.6 L382.4 389.6 L392.4 390.2 L402 390.7 L414.8 391.2 L428.9 391.8 L442.6 392.4 L453.9 392.9 L461 393.3 L465.2 393.7 L469 394.3 L472.4 395 L475.3 395.6 L477.9 396.2 L480 396.6 L482.3 397 L485.3 397.5 L488.7 398.1 L492.3 398.7 L495.8 399.2 L499 399.6 L503.4 400 L509.9 400.6 L517.7 401.2 L525.9 401.9 L533.6 402.5 L540 403.1 L548 403.9 L559.8 405.2 L573.6 406.7 L587.4 408.1 L599.3 409.4 L607.3 410.2 L613.3 410.8 L620.1 411.4 L627.4 412.1 L635 412.7 L642.3 413.2 L649.2 413.5 L659.6 413.7 L675.7 413.8 L694.5 413.9 L713.2 413.9 L728.7 414 L738 414 L742.7 414.1 L746.4 414.1 L749.3 414.2 L751.6 414.3 L753.4 414.4 L755 414.5 L756.7 414.6 L758.8 414.7 L761.1 414.8 L763.5 415 L765.9 415.1 L768.2 415.3 L771.4 415.6 L776.3 416 L782.2 416.6 L788.4 417.1 L794.2 417.6 L799 417.9 L804.9 418.2 L813.5 418.6 L823.6 419.1 L833.8 419.4 L842.9 419.6 L849.5 419.6 L855.8 419.1 L864.2 418.2 L873.6 417 L883.1 415.7 L891.5 414.7 L897.8 414 L904.7 413.6 L914.4 413 L925.2 412.5 L935.7 412.1 L944.1 411.7 L949 411.5"/>
<path class="dash" d="M71 410.4 L75.6 411.3 L83.5 412.9 L93.3 414.8 L103.4 416.7 L112.2 418.3 L118.4 419.2 L123.8 419.6 L131 419.8 L138.8 419.9 L146.3 419.9 L152.5 419.9 L156.5 419.9 L158.9 419.9 L161.1 419.9 L163 419.8 L164.9 419.7 L166.5 419.7 L168 419.6 L169.9 419.5 L172.5 419.3 L175.6 419.1 L178.9 418.9 L182.1 418.7 L185 418.5 L188.9 418.2 L194.7 417.8 L201.7 417.4 L208.8 416.9 L215.2 416.6 L220 416.5 L224.9 416.6 L231.7 417 L239.4 417.4 L247.1 417.9 L254 418.3 L259.2 418.5 L264.6 418.6 L272 418.6 L280.4 418.5 L288.5 418.5 L295.5 418.4 L300 418.4 L302.8 418.4 L305.4 418.3 L308.1 418.3 L311.1 418.3 L314.7 418.3 L319 418.4 L327.4 418.7 L341.3 419.1 L357.8 419.6 L374.4 420.2 L388.2 420.6 L396.5 420.9 L400.5 421 L403.5 421.1 L405.9 421.2 L408 421.3 L410.2 421.4 L413 421.5 L418.1 421.7 L426 421.9 L435.5 422.1 L445.2 422.5 L453.8 422.9 L460 423.4 L465.8 424.4 L473.4 426 L482 427.9 L490.4 429.9 L497.8 431.6 L503.2 432.6 L508.3 433.3 L515.1 433.9 L522.5 434.6 L529.8 435.2 L535.9 435.7 L540 436.1 L542.9 436.4 L545.9 436.8 L549.1 437.2 L552.3 437.6 L555.6 438 L559 438.2 L564 438.4 L571.5 438.5 L580.7 438.7 L590.3 438.9 L599.6 439.1 L607.3 439.4 L617.2 440 L632.1 440.9 L649.4 441.9 L666.8 443 L682 443.9 L692.4 444.5 L701.2 444.8 L712.2 445 L724.2 445.2 L735.8 445.4 L745.8 445.6 L753 445.8 L759.4 446.1 L767.5 446.6 L776.4 447.2 L785.2 447.8 L793 448.3 L799 448.8 L805.4 449.4 L814.2 450.3 L824.2 451.4 L834.2 452.4 L843 453.1 L849.5 453.4 L855.8 453.1 L864.2 452.3 L873.6 451.3 L883.1 450.2 L891.5 449.3 L897.8 448.8 L904.7 448.5 L914.4 448.3 L925.2 448.1 L935.7 448 L944.1 447.9 L949 447.8"/>
<path class="dash" d="M71 439.4 L75.5 440.2 L83.2 441.5 L92.9 443.1 L102.9 444.8 L111.9 446.2 L118.4 447 L124.7 447.5 L133.3 447.9 L143 448.4 L152.7 448.7 L161.3 449 L167.7 449.1 L174.1 449.1 L182.8 448.9 L192.5 448.7 L202.2 448.5 L210.9 448.3 L217.4 448.3 L224.1 448.5 L233.2 448.9 L243.5 449.3 L253.6 449.8 L262.3 450.2 L268.2 450.4 L273.1 450.5 L279 450.5 L285.3 450.5 L291.3 450.4 L296.5 450.4 L300 450.4 L302.7 450.4 L305.8 450.3 L309 450.3 L312.4 450.3 L315.7 450.3 L319 450.4 L323.9 450.7 L331.4 451.3 L340.2 452 L349.4 452.7 L357.5 453.3 L363.5 453.5 L369.3 453.3 L377.2 452.8 L386.1 452.1 L395.1 451.5 L403.1 451 L409.2 450.9 L415.4 451.2 L423.8 451.9 L433.3 452.8 L443.2 453.9 L452.4 455 L460 456 L469.8 457.6 L484.4 460.2 L501.2 463.3 L517.8 466.3 L531.5 468.9 L540 470.4 L544.7 471.2 L548.8 472 L552.3 472.6 L555.1 473.1 L557.4 473.5 L559 473.7 L560 473.8 L560.7 473.9 L561.3 473.9 L562.2 473.8 L563.4 473.8 L565.4 473.7 L569.6 473.6 L576.4 473.4 L584.8 473.1 L593.6 472.8 L601.4 472.6 L607.3 472.5 L613.2 472.4 L621.3 472.3 L630.5 472.3 L639.7 472.3 L648 472.3 L654.3 472.5 L660.7 473 L669.5 473.9 L679.5 475 L689.6 476.1 L698.4 477 L705 477.5 L711.8 477.7 L721 477.7 L731.4 477.7 L741.5 477.6 L749.8 477.5 L755 477.5 L757.9 477.6 L760.3 477.7 L762.3 477.8 L764.2 478 L766.1 478.1 L768.2 478.3 L771.4 478.5 L776.3 478.8 L782.2 479.2 L788.4 479.7 L794.2 480.2 L799 480.8 L804.9 481.8 L813.5 483.5 L823.6 485.5 L833.8 487.6 L842.9 489.2 L849.5 490.2 L855.8 490.6 L864.2 490.9 L873.6 491.1 L883.1 491.2 L891.5 491.3 L897.8 491.5 L904.7 491.9 L914.4 492.4 L925.2 493 L935.7 493.7 L944.1 494.2 L949 494.5"/>
<path class="dash" d="M71 470.7 L79.9 471.6 L95.3 473.1 L114.4 475 L134.6 476.9 L153.3 478.5 L167.7 479.6 L184.4 480.4 L208.8 481.3 L236.8 482.3 L264.1 483.2 L286.5 483.9 L300 484.4 L306.2 484.6 L310.2 484.8 L312.8 484.8 L314.6 484.9 L316.4 485 L319 485.1 L323.9 485.4 L331.4 485.8 L340.2 486.4 L349.4 486.9 L357.5 487.3 L363.5 487.5 L369.3 487.3 L377.2 486.9 L386.1 486.4 L395.1 485.9 L403.1 485.6 L409.2 485.7 L415.7 486.3 L424.6 487.5 L434.7 489.1 L444.8 490.7 L453.6 492.3 L460 493.5 L465.9 495 L473.6 497.2 L482.1 499.7 L490.5 502.1 L497.9 504.2 L503.2 505.5 L508.3 506.2 L515.1 506.9 L522.5 507.5 L529.8 508.1 L535.9 508.5 L540 508.8 L542.9 509.1 L545.9 509.4 L549.1 509.6 L552.3 509.9 L555.6 510.2 L559 510.5 L564.2 510.9 L572.3 511.7 L582 512.5 L591.9 513.3 L600.8 513.7 L607.3 513.8 L613.8 513 L622.6 511.5 L632.5 509.6 L642.4 507.7 L650.9 506.4 L656.8 506 L662.1 506.9 L668.7 509 L675.9 511.6 L682.9 514.4 L688.6 516.7 L692.4 518.2 L694.9 519.1 L697.5 520.1 L700 521.1 L702.3 522 L704.4 522.6 L706 523 L707.7 523.1 L709.9 523 L712.4 522.7 L715 522.5 L717.6 522.2 L720 522 L723.3 521.7 L728.1 521.3 L734 520.9 L740.1 520.4 L745.8 520.2 L750.5 520.2 L756.1 520.7 L764.4 521.6 L774 522.8 L783.8 524 L792.5 525.1 L799 525.8 L805.7 526.4 L815 527.1 L825.5 527.9 L835.7 528.7 L844.2 529.5 L849.5 530.3 L852.7 531.4 L855.8 533 L858.6 534.9 L861.1 536.9 L863.1 538.6 L864.7 540 L866.3 541.4 L868.2 543.2 L870.3 545.3 L872.3 547.6 L873.9 549.6 L874.9 551.4 L875.3 553.6 L875.6 556.8 L875.7 560.6 L875.8 564.5 L875.9 567.9 L876.2 570.5 L876.8 573.1 L877.7 576.5 L878.8 580.5 L880.1 584.4 L881.3 588 L882.5 590.8 L884.1 593.9 L886.5 598.4 L889.4 603.4 L892.5 608.3 L895.4 612.4 L897.8 614.9 L900.7 616.2 L905 617.3 L910.1 618.2 L915.2 619 L919.7 619.5 L923.1 620 L926.6 620.5 L931.5 621.2 L937 621.8 L942.3 622.5 L946.5 623 L949 623.3"/>
<path class="dash" d="M71 502.2 L75.5 502.1 L83.2 502 L92.9 501.8 L102.9 501.7 L111.9 501.8 L118.4 502.2 L124.7 503.3 L133.3 505.1 L143 507.4 L152.7 509.7 L161.3 511.8 L167.7 513.1 L173.9 514.1 L182 515.3 L191.3 516.6 L200.8 517.9 L209.8 519.1 L217.4 520 L227.4 521.1 L242.4 522.8 L259.9 524.6 L277 526.4 L291.3 527.9 L300 528.8 L304.6 529.2 L308.3 529.4 L311.4 529.5 L314.1 529.5 L316.5 529.5 L319 529.6 L322.5 529.7 L327.4 529.9 L333.2 530.1 L339.4 530.3 L345.5 530.6 L350.8 530.9 L358.1 531.4 L369.1 532.3 L382 533.4 L395.1 534.5 L406.5 535.4 L414.3 536 L420.8 536.5 L428.9 537 L437.7 537.5 L446.4 538.1 L454.1 538.7 L460 539.2 L466.3 540.1 L474.9 541.4 L484.6 543 L494.2 544.5 L502.5 545.8 L508.2 546.5 L513 546.7 L518.9 546.8 L525.2 546.6 L531.3 546.5 L536.4 546.3 L540 546.3 L543 546.4 L546.6 546.5 L550.5 546.6 L554.1 546.8 L557.1 546.9 L559 547 L560 547 L560.7 547 L561.3 546.9 L562.2 546.9 L563.4 546.9 L565.4 547.1 L569.5 547.5 L576.2 548.1 L584.4 548.9 L593 549.8 L601 550.7 L607.3 551.4 L614.5 552.4 L624.8 554 L636.8 555.8 L648.9 557.6 L659.4 559.2 L667 560.3 L674 561.2 L683.2 562.3 L693.4 563.5 L703.4 564.7 L711.9 565.8 L717.8 566.7 L722.8 567.7 L729 569.2 L735.6 571 L742 572.7 L747.3 574.3 L750.8 575.6 L753.5 577 L756.6 579 L759.7 581.2 L762.6 583.5 L764.8 585.5 L766 587 L766.4 588.5 L766.2 590.4 L765.8 592.6 L765.1 594.8 L764.3 596.8 L763.5 598.4 L762.2 600.3 L760.1 603 L757.6 606.1 L755.1 609.2 L753.1 611.9 L752 613.6 L751.6 614.9 L751.6 616.3 L751.7 617.8 L752.1 619.2 L752.6 620.4 L753.3 621.3 L754.5 622.1 L756.5 623.1 L759 624.1 L761.8 625.2 L764.5 626.2 L767 627 L770.7 628 L776.5 629.5 L783.3 631.3 L790.1 633 L795.7 634.4 L799 635.2 L799.6 635.5 L798.5 635.6 L797.2 635.6 L796.7 635.6 L798.5 635.7 L803.8 636 L818.8 636.9 L844.9 638.5 L876.6 640.3 L908.2 642.2 L934.2 643.7 L949 644.6"/>
<path class="zero" d="M71 538.5 L72.8 537.5 L75.9 535.8 L79.7 533.7 L83.8 531.5 L87.5 529.6 L90.5 528.3 L93.7 527.1 L98.1 525.5 L103.3 523.7 L108.8 522.1 L114 521 L118.4 520.7 L124 521.5 L132.4 523.2 L142.2 525.5 L152.2 527.9 L161.1 530.1 L167.7 531.6 L173.9 533 L182 535 L191.3 537.2 L200.8 539.3 L209.8 541.1 L217.4 542.3 L227.4 543.1 L242.4 544 L259.9 545 L277 545.8 L291.3 546.5 L300 546.9 L304.1 547.1 L306.9 547.3 L309 547.4 L311.3 547.5 L314.3 547.7 L319 548.1 L329 549 L345.7 550.4 L365.6 552.2 L385.9 553.9 L403.1 555.4 L414.3 556.2 L421.9 556.5 L430.3 556.7 L438.9 556.7 L447.1 556.7 L454.3 556.8 L460 557 L466.3 557.6 L474.9 558.5 L484.6 559.6 L494.2 560.7 L502.5 561.6 L508.2 562.1 L513 562.2 L518.9 562.2 L525.3 562.1 L531.4 561.9 L536.5 561.7 L540 561.6 L542.4 561.4 L544.9 561 L547.5 560.6 L550.3 560.2 L553.3 560.1 L556.5 560.3 L561.9 561.2 L570.4 562.9 L580.7 564.9 L591.2 567.1 L600.5 569 L607.3 570.3 L613.8 571.6 L622.5 573.2 L632.3 575.1 L642.1 576.9 L650.6 578.4 L656.8 579.3 L662.8 579.8 L670.7 580.1 L679.4 580.3 L688 580.5 L695.2 580.8 L700 581.1 L703.7 581.7 L708 582.5 L712.5 583.6 L716.5 584.8 L719.7 585.9 L721.6 587 L722.3 588.5 L722.5 590.9 L722.4 593.7 L721.9 596.6 L721.4 599.2 L720.8 601 L719.7 602.7 L717.8 604.9 L715.5 607.4 L713.3 609.9 L711.8 612 L711.4 613.6 L712.5 615.1 L714.9 617.2 L718.1 619.4 L721.6 621.7 L724.9 623.7 L727.6 625.1 L730.7 626.4 L735.1 628.2 L740.4 630.1 L746 632.1 L751.3 633.9 L755.8 635.2 L761.6 636.7 L770.4 638.9 L780.6 641.3 L790.9 643.6 L799.9 645.6 L806.3 646.7 L811.8 647.2 L818.9 647.4 L826.6 647.5 L834.4 647.6 L841.4 647.7 L847 648 L853.2 648.7 L862 649.8 L872 651.1 L882.1 652.4 L891.1 653.6 L897.8 654.3 L904.8 654.8 L914.5 655.4 L925.3 656 L935.7 656.6 L944.1 657 L949 657.3"/>
<path class="solid" d="M71 559.9 L75 560.1 L82 560.6 L90.6 561.1 L99.3 561.6 L106.5 562 L110.8 562.3 L112.6 562.4 L113.6 562.5 L114.2 562.6 L115 562.7 L116.2 562.7 L118.4 562.6 L123.3 562.4 L131.5 562 L141.5 561.5 L151.8 561.1 L161 560.7 L167.7 560.5 L173.9 560.5 L182 560.6 L191.3 560.7 L200.8 560.9 L209.8 561.1 L217.4 561.3 L227.4 561.5 L242.4 561.9 L259.9 562.4 L277 562.9 L291.3 563.3 L300 563.5 L304.1 563.6 L306.9 563.6 L309 563.5 L311.3 563.5 L314.3 563.7 L319 564 L329 564.9 L345.7 566.3 L365.6 568.1 L385.9 569.9 L403.1 571.4 L414.3 572.3 L421.7 572.6 L429.6 572.8 L437.7 572.9 L445.7 572.9 L453.2 572.9 L460 573.1 L469.6 573.5 L484.1 574.2 L501 575 L517.7 575.9 L531.5 576.6 L540 577 L544.4 577.2 L547.8 577.4 L550.7 577.5 L553.3 577.7 L555.9 577.9 L559 578.1 L564.4 578.6 L573 579.4 L583.1 580.3 L593.3 581.3 L601.9 582.1 L607.3 582.8 L610.7 583.4 L614 584.2 L617.3 585.2 L620.4 586.2 L623.5 587.2 L626.3 588.2 L630.5 589.7 L636.9 592.2 L644.4 595 L651.9 597.9 L658.1 600.5 L661.9 602.2 L664 603.6 L665.8 605.4 L667.3 607.3 L668.8 609.2 L670.3 611 L672 612.4 L674.8 614.1 L679.1 616.6 L684.2 619.4 L689.5 622.3 L694.1 624.7 L697.4 626.3 L700.4 627.5 L704.2 628.8 L708.5 630.3 L712.8 631.7 L716.8 632.9 L720 634 L723.7 635.3 L729 637.1 L735.1 639.2 L741.4 641.3 L747.3 643.2 L752 644.6 L757.9 646.1 L766.5 648.1 L776.5 650.4 L786.3 652.6 L794.3 654.4 L799 655.5 L800.9 656 L801.7 656.4 L801.8 656.7 L801.9 656.9 L802.4 657.1 L803.8 657.3 L807.3 657.5 L813.2 657.8 L820.3 658.2 L827.7 658.5 L834.4 658.9 L839.3 659.3 L844.4 659.9 L851.6 660.9 L859.7 662 L867.5 663.2 L873.8 664.1 L877.4 664.6"/>
<path class="solid" d="M71 588.2 L80.2 588.6 L96.1 589.4 L115.7 590.4 L136.2 591.3 L154.5 592.1 L167.7 592.6 L180.7 592.8 L198.6 592.9 L218.7 593 L238.2 593 L254.5 593 L265 593 L271.8 593 L278.8 593.1 L285.4 593.1 L291.5 593.2 L296.5 593.2 L300 593.3 L302.5 593.4 L304.8 593.4 L307.2 593.5 L310.2 593.7 L314 593.9 L319 594.1 L329 594.6 L345.7 595.4 L365.6 596.4 L385.9 597.4 L403.1 598.3 L414.3 598.9 L421.9 599.5 L430.3 600.2 L438.9 601 L447.1 601.8 L454.3 602.5 L460 603 L466.3 603.5 L474.9 604.1 L484.6 604.8 L494.2 605.4 L502.5 606 L508.2 606.5 L513 607 L518.9 607.7 L525.2 608.4 L531.3 609.2 L536.4 609.8 L540 610.3 L542.7 610.7 L545.7 611.1 L548.9 611.6 L552.2 612.1 L555.6 612.5 L559 612.9 L564.4 613.3 L573 613.8 L583.1 614.4 L593.2 615 L601.8 615.7 L607.3 616.3 L610.9 617.2 L614.6 618.7 L618.3 620.5 L621.8 622.3 L624.9 624 L627.5 625.3 L630.4 626.8 L634.4 629 L639 631.5 L643.8 634.1 L648.5 636.3 L652.5 637.8 L658 639.2 L666.4 640.9 L676.1 642.8 L685.8 644.6 L694.1 646.2 L699.4 647.2 L702.9 647.9 L706.5 648.6 L710.2 649.3 L713.7 650.1 L717.1 650.9 L720 651.7 L724.2 653.2 L730.5 655.5 L737.7 658.3 L744.8 661 L750.6 663.2 L753.9 664.5"/>
<path class="solid" d="M71 618 L74.7 618.2 L81.2 618.4 L89.1 618.8 L97.1 619.1 L103.8 619.4 L108 619.6 L110.3 619.7 L112.5 619.9 L114.5 620 L116.3 620.1 L117.8 620.2 L119 620.2 L120.2 620.2 L121.5 620.1 L123.1 620 L124.9 619.9 L127 619.7 L129.3 619.6 L133.4 619.3 L140 618.9 L148 618.3 L156.1 617.8 L163.2 617.5 L168 617.3 L172 617.4 L176.9 617.7 L182.2 618.2 L187.4 618.7 L191.9 619.1 L195.2 619.4 L198.4 619.7 L202.5 620.1 L207 620.5 L211.6 621 L215.6 621.4 L218.6 621.7 L221.8 622.1 L226.1 622.7 L231 623.3 L235.7 624 L239.6 624.6 L242 625 L243.4 625.4 L244.7 625.8 L245.9 626.3 L246.8 626.8 L247.5 627.3 L247.9 627.6 L248.1 628 L248.1 628.5 L248 629.1 L247.8 629.6 L247.6 630.1 L247.3 630.5 L246.9 630.8 L246.3 631.3 L245.5 631.8 L244.5 632.3 L243.3 632.7 L242 632.9 L239.5 633 L235.3 633.1 L230.3 633.1 L225.3 633.1 L221.1 633.2 L218.6 633.2 L217.4 633.2 L216.7 633.3 L216.1 633.3 L215.5 633.5 L214.9 633.7 L213.9 634 L212 634.7 L208.8 635.9 L205 637.4 L201.1 638.9 L197.7 640.2 L195.2 641.1 L192.8 641.9 L189.7 642.8 L186.1 643.9 L182.7 644.9 L179.7 645.8 L177.6 646.3 L176.1 646.7 L174.6 647.1 L172.9 647.5 L170.9 647.8 L168.6 648 L165.9 648.1 L160.8 648 L152.5 647.6 L142.6 647.2 L132.6 646.8 L124.1 646.5 L118.7 646.6 L115.2 647.2 L111.3 648.2 L107.6 649.6 L104.2 651 L101.6 652.2 L100 653 L99.3 653.7 L99 654.5 L99 655.4 L99.2 656.3 L99.6 657.1 L100 657.7 L100.8 658.3 L102.1 659 L103.7 659.9 L105.4 660.7 L107 661.4 L108.2 661.8 L109.5 662 L111.4 662.2 L113.5 662.3 L115.7 662.3 L117.6 662.4 L119 662.4 L120.2 662.4 L121.7 662.3 L123.4 662.2 L125.3 662.1 L127.3 661.9 L129.3 661.8 L132.6 661.6 L137.9 661.2 L144.2 660.8 L150.5 660.4 L156.1 660 L160 659.8 L163.2 659.6 L167.2 659.4 L171.5 659.2 L175.9 659 L180 658.8 L183.4 658.6 L187.5 658.4 L193.3 658.1 L200.1 657.7 L207.1 657.3 L213.5 657 L218.6 656.9 L224.5 656.9 L233.1 657 L242.9 657.2 L252.6 657.4 L260.6 657.5 L265.5 657.5 L268.2 657.4 L270.4 657.1 L272.3 656.7 L273.9 656.3 L275.5 656 L277.2 655.7 L279.8 655.4 L283.7 654.9 L288.3 654.3 L293 653.8 L297.1 653.3 L300 653 L302.7 652.8 L306.2 652.5 L310.1 652.3 L313.9 652 L317 651.8 L319 651.7 L320 651.6 L320.7 651.5 L321.3 651.4 L322.1 651.3 L323.4 651.2 L325.4 651.2 L329.8 651.2 L337.2 651.2 L346.2 651.2 L355.3 651.1 L363.3 651.1 L368.6 651 L372.6 650.7 L377.2 650.3 L382.3 649.7 L387.3 649.2 L392.2 648.8 L396.5 648.7 L402.5 648.9 L411.7 649.4 L422.4 650.1 L433 650.8 L441.8 651.4 L447.3 651.7 L450.3 651.9 L453 652 L455.4 652.2 L457.5 652.2 L459.4 652.3 L461 652.3 L463 652.3 L465.7 652.2 L468.8 652.1 L472 651.9 L475.1 651.6 L477.8 651.2 L481.3 650.2 L486.4 648.5 L492.4 646.5 L498.6 644.4 L504.1 642.7 L508.2 641.6 L512.4 640.9 L518.1 640.2 L524.6 639.5 L531 638.8 L536.4 638.3 L540 638 L542.5 637.7 L545.1 637.3 L547.9 636.9 L550.8 636.7 L553.9 636.7 L557.2 637 L562.7 638.1 L571.4 640.1 L581.8 642.6 L592.3 645.1 L601.3 647.3 L607.3 648.8 L611.8 650 L617 651.4 L622.5 652.9 L627.9 654.4 L632.8 655.6 L636.9 656.6 L642.1 657.6 L649.6 658.9 L658.3 660.3 L666.7 661.7 L673.5 662.9 L677.5 663.6 L679.1 664 L679.7 664.3 L679.8 664.6 L679.5 664.8 L679.1 664.9 L679 665"/>
<ellipse class="solid" cx="260.5" cy="635" rx="6" ry="1.3"/>
</g>
<g class="clab">
<text x="168" y="111.9">−54</text>
<text x="755" y="153.4">−50</text>
<text x="364" y="258.4">−38</text>
<text x="317" y="308.8">−30</text>
<text x="803.5" y="338.4">−30</text>
<text x="316" y="361.4">−22</text>
<text x="657" y="386.7">−22</text>
<text x="217" y="390.1">−18</text>
<text x="755" y="419.4">−18</text>
<text x="168" y="425">−14</text>
<text x="413" y="426.9">−14</text>
<text x="363.5" y="458.9">−10</text>
<text x="755" y="482.9">−10</text>
<text x="363.5" y="492.9">−6</text>
<text x="706" y="529">−6</text>
<text x="559" y="552.7">−2</text>
<text x="265.7" y="598.4">6</text>
<text x="119" y="626">10</text>
<text x="119.5" y="668.4">10</text>
<text x="461" y="657.7">10</text>
</g>
</g>
<rect x="70" y="45" width="880" height="651" fill="none" stroke="#000" stroke-width="2"/>
<text x="510" y="30" font-size="26" text-anchor="middle" font-weight="200" letter-spacing="0.4" stroke="#000" stroke-width="0.5">2025112613 HRRR Forecast Temperature (°C) for SPAR</text>
<g class="ylab">
<text transform="translate(60.4 131.4) scale(1.12 1)">250</text>
<rect x="60" y="123.8" width="2" height="1.2" fill="#444"/>
<text transform="translate(60.4 204) scale(1.12 1)">300</text>
<rect x="60" y="196.4" width="2" height="1.2" fill="#444"/>
<text transform="translate(60.4 265.4) scale(1.12 1)">350</text>
<rect x="60" y="257.8" width="2" height="1.2" fill="#444"/>
<text transform="translate(60.4 318.5) scale(1.12 1)">400</text>
<rect x="60" y="310.9" width="2" height="1.2" fill="#444"/>
<text transform="translate(60.4 365.4) scale(1.12 1)">450</text>
<rect x="60" y="357.8" width="2" height="1.2" fill="#444"/>
<text transform="translate(60.4 407.4) scale(1.12 1)">500</text>
<rect x="60" y="399.8" width="2" height="1.2" fill="#444"/>
<text transform="translate(60.4 445.3) scale(1.12 1)">550</text>
<rect x="60" y="437.7" width="2" height="1.2" fill="#444"/>
<text transform="translate(60.4 480) scale(1.12 1)">600</text>
<rect x="60" y="472.4" width="2" height="1.2" fill="#444"/>
<text transform="translate(60.4 511.9) scale(1.12 1)">650</text>
<rect x="60" y="504.3" width="2" height="1.2" fill="#444"/>
<text transform="translate(60.4 541.4) scale(1.12 1)">700</text>
<rect x="60" y="533.8" width="2" height="1.2" fill="#444"/>
<text transform="translate(60.4 568.8) scale(1.12 1)">750</text>
<rect x="60" y="561.2" width="2" height="1.2" fill="#444"/>
<text transform="translate(60.4 594.5) scale(1.12 1)">800</text>
<rect x="60" y="586.9" width="2" height="1.2" fill="#444"/>
<text transform="translate(60.4 618.7) scale(1.12 1)">850</text>
<rect x="60" y="611.1" width="2" height="1.2" fill="#444"/>
<text transform="translate(60.4 641.4) scale(1.12 1)">900</text>
<rect x="60" y="633.8" width="2" height="1.2" fill="#444"/>
<text transform="translate(60.4 663) scale(1.12 1)">950</text>
<rect x="60" y="655.4" width="2" height="1.2" fill="#444"/>
<text transform="translate(60.4 683.4) scale(1.12 1)">1000</text>
<rect x="60" y="675.8" width="2" height="1.2" fill="#444"/>
</g>
<g class="xlab">
<text x="167.7" y="718.5">15Z</text>
<line x1="167.7" y1="696" x2="167.7" y2="701.5" stroke="#000" stroke-width="1"/>
<text x="314.2" y="718.5">18Z</text>
<line x1="314.2" y1="696" x2="314.2" y2="701.5" stroke="#000" stroke-width="1"/>
<text x="460.7" y="718.5">21Z</text>
<line x1="460.7" y1="696" x2="460.7" y2="701.5" stroke="#000" stroke-width="1"/>
<text x="607.2" y="718.5">00Z</text>
<line x1="607.2" y1="696" x2="607.2" y2="701.5" stroke="#000" stroke-width="1"/>
<text x="753.8" y="718.5">03Z</text>
<line x1="753.8" y1="696" x2="753.8" y2="701.5" stroke="#000" stroke-width="1"/>
<text x="900.3" y="718.5">06Z</text>
<line x1="900.3" y1="696" x2="900.3" y2="701.5" stroke="#000" stroke-width="1"/>
<text x="167.7" y="738">26NOV</text>
<text x="167.7" y="756.5">2025</text>
<text x="607.2" y="738">27NOV</text>
</g>
<text x="510" y="765" font-size="19" text-anchor="middle" font-weight="200" letter-spacing="1.36" stroke="#000" stroke-width="0.45">Forecast Time (UTC)</text>
<text x="1017.6" y="761" font-size="17" text-anchor="end" font-weight="200" letter-spacing="1.0" style="fill:#F03C3C;stroke:#F03C3C;stroke-width:0.3">coolwx.com/modelts</text>
<rect x="977" y="93.5" width="19.5" height="20.8" fill="#FF6600"/>
<rect x="977" y="114" width="19.5" height="20.8" fill="#FF8800"/>
<rect x="977" y="134.5" width="19.5" height="20.8" fill="#FFA000"/>
<rect x="977" y="155" width="19.5" height="20.8" fill="#FFC000"/>
<rect x="977" y="175.5" width="19.5" height="20.8" fill="#FFD800"/>
<rect x="977" y="196" width="19.5" height="20.8" fill="#FFFF00"/>
<rect x="977" y="216.5" width="19.5" height="20.8" fill="#FFFFFF"/>
<rect x="977" y="237" width="19.5" height="20.8" fill="#55FF00"/>
<rect x="977" y="257.5" width="19.5" height="20.8" fill="#00FF48"/>
<rect x="977" y="278" width="19.5" height="20.8" fill="#00FA84"/>
<rect x="977" y="298.5" width="19.5" height="20.8" fill="#00FFA5"/>
<rect x="977" y="319" width="19.5" height="20.8" fill="#00FFCC"/>
<rect x="977" y="339.5" width="19.5" height="20.8" fill="#00EEFF"/>
<rect x="977" y="360" width="19.5" height="20.8" fill="#00C0FF"/>
<rect x="977" y="380.5" width="19.5" height="20.8" fill="#0096FF"/>
<rect x="977" y="401" width="19.5" height="20.8" fill="#0070FF"/>
<rect x="977" y="421.5" width="19.5" height="20.8" fill="#0050FF"/>
<rect x="977" y="442" width="19.5" height="20.8" fill="#0030FF"/>
<rect x="977" y="462.5" width="19.5" height="20.8" fill="#0000FF"/>
<rect x="977" y="483" width="19.5" height="20.8" fill="#2200FF"/>
<rect x="977" y="503.5" width="19.5" height="20.8" fill="#4400FF"/>
<rect x="977" y="524" width="19.5" height="20.8" fill="#6600FF"/>
<rect x="977" y="544.5" width="19.5" height="20.8" fill="#8800FF"/>
<rect x="977" y="565" width="19.5" height="20.8" fill="#A800FF"/>
<rect x="977" y="585.5" width="19.5" height="20.8" fill="#CC00FF"/>
<rect x="977" y="606" width="19.5" height="20.8" fill="#FF00FF"/>
<rect x="977" y="626.5" width="19.5" height="20.8" fill="#FF00EE"/>
<line x1="977" y1="114" x2="996.5" y2="114" stroke="#333" stroke-width="1.2" stroke-dasharray="4.3 10.9 4.3 0"/>
<line x1="977" y1="134.5" x2="996.5" y2="134.5" stroke="#333" stroke-width="1.2" stroke-dasharray="4.3 10.9 4.3 0"/>
<line x1="977" y1="155" x2="996.5" y2="155" stroke="#333" stroke-width="1.2" stroke-dasharray="4.3 10.9 4.3 0"/>
<line x1="977" y1="175.5" x2="996.5" y2="175.5" stroke="#333" stroke-width="1.2" stroke-dasharray="4.3 10.9 4.3 0"/>
<line x1="977" y1="196" x2="996.5" y2="196" stroke="#333" stroke-width="1.2" stroke-dasharray="4.3 10.9 4.3 0"/>
<line x1="977" y1="216.5" x2="996.5" y2="216.5" stroke="#333" stroke-width="1.2" stroke-dasharray="4.3 10.9 4.3 0"/>
<line x1="977" y1="237" x2="996.5" y2="237" stroke="#333" stroke-width="1.2" stroke-dasharray="4.3 10.9 4.3 0"/>
<line x1="977" y1="257.5" x2="996.5" y2="257.5" stroke="#333" stroke-width="1.2" stroke-dasharray="4.3 10.9 4.3 0"/>
<line x1="977" y1="278" x2="996.5" y2="278" stroke="#333" stroke-width="1.2" stroke-dasharray="4.3 10.9 4.3 0"/>
<line x1="977" y1="298.5" x2="996.5" y2="298.5" stroke="#333" stroke-width="1.2" stroke-dasharray="4.3 10.9 4.3 0"/>
<line x1="977" y1="319" x2="996.5" y2="319" stroke="#333" stroke-width="1.2" stroke-dasharray="4.3 10.9 4.3 0"/>
<line x1="977" y1="339.5" x2="996.5" y2="339.5" stroke="#333" stroke-width="1.2" stroke-dasharray="4.3 10.9 4.3 0"/>
<line x1="977" y1="360" x2="996.5" y2="360" stroke="#333" stroke-width="1.2" stroke-dasharray="4.3 10.9 4.3 0"/>
<line x1="977" y1="380.5" x2="996.5" y2="380.5" stroke="#333" stroke-width="1.2" stroke-dasharray="4.3 10.9 4.3 0"/>
<line x1="977" y1="401" x2="996.5" y2="401" stroke="#333" stroke-width="1.2" stroke-dasharray="4.3 10.9 4.3 0"/>
<line x1="977" y1="421.5" x2="996.5" y2="421.5" stroke="#333" stroke-width="1.2" stroke-dasharray="4.3 10.9 4.3 0"/>
<line x1="977" y1="442" x2="996.5" y2="442" stroke="#333" stroke-width="1.2" stroke-dasharray="4.3 10.9 4.3 0"/>
<line x1="977" y1="462.5" x2="996.5" y2="462.5" stroke="#333" stroke-width="1.2" stroke-dasharray="4.3 10.9 4.3 0"/>
<line x1="977" y1="483" x2="996.5" y2="483" stroke="#333" stroke-width="1.2" stroke-dasharray="4.3 10.9 4.3 0"/>
<line x1="977" y1="503.5" x2="996.5" y2="503.5" stroke="#333" stroke-width="1.2" stroke-dasharray="4.3 10.9 4.3 0"/>
<line x1="977" y1="524" x2="996.5" y2="524" stroke="#333" stroke-width="1.2" stroke-dasharray="4.3 10.9 4.3 0"/>
<line x1="977" y1="544.5" x2="996.5" y2="544.5" stroke="#333" stroke-width="1.2" stroke-dasharray="4.3 10.9 4.3 0"/>
<line x1="977" y1="565" x2="996.5" y2="565" stroke="#333" stroke-width="1.2" stroke-dasharray="4.3 10.9 4.3 0"/>
<line x1="977" y1="585.5" x2="996.5" y2="585.5" stroke="#333" stroke-width="1.2" stroke-dasharray="4.3 10.9 4.3 0"/>
<line x1="977" y1="606" x2="996.5" y2="606" stroke="#333" stroke-width="1.2" stroke-dasharray="4.3 10.9 4.3 0"/>
<line x1="977" y1="626.5" x2="996.5" y2="626.5" stroke="#333" stroke-width="1.2" stroke-dasharray="4.3 10.9 4.3 0"/>
<rect x="977" y="93.5" width="19.5" height="553.5" fill="none" stroke="#444" stroke-width="1"/>
<g class="cbl">
<text x="1001.6" y="118.3">12</text>
<text x="1001.6" y="138.8">10</text>
<text x="1001.6" y="159.3">8</text>
<text x="1001.6" y="179.8">6</text>
<text x="1001.6" y="200.3">4</text>
<text x="1001.6" y="220.8">2</text>
<text x="1001.6" y="241.3">−<tspan dx="1.6">2</tspan></text>
<text x="1001.6" y="261.8">−<tspan dx="1.6">4</tspan></text>
<text x="1001.6" y="282.3">−<tspan dx="1.6">6</tspan></text>
<text x="1001.6" y="302.8">−<tspan dx="1.6">8</tspan></text>
<text x="1001.6" y="323.3">−<tspan dx="1.6">10</tspan></text>
<text x="1001.6" y="343.8">−<tspan dx="1.6">12</tspan></text>
<text x="1001.6" y="364.3">−<tspan dx="1.6">14</tspan></text>
<text x="1001.6" y="384.8">−<tspan dx="1.6">16</tspan></text>
<text x="1001.6" y="405.3">−<tspan dx="1.6">18</tspan></text>
<text x="1001.6" y="425.8">−<tspan dx="1.6">20</tspan></text>
<text x="1001.6" y="446.3">−<tspan dx="1.6">22</tspan></text>
<text x="1001.6" y="466.8">−<tspan dx="1.6">24</tspan></text>
<text x="1001.6" y="487.3">−<tspan dx="1.6">26</tspan></text>
<text x="1001.6" y="507.8">−<tspan dx="1.6">28</tspan></text>
<text x="1001.6" y="528.3">−<tspan dx="1.6">30</tspan></text>
<text x="1001.6" y="548.8">−<tspan dx="1.6">32</tspan></text>
<text x="1001.6" y="569.3">−<tspan dx="1.6">34</tspan></text>
<text x="1001.6" y="589.8">−<tspan dx="1.6">36</tspan></text>
<text x="1001.6" y="610.3">−<tspan dx="1.6">38</tspan></text>
<text x="1001.6" y="630.8">−<tspan dx="1.6">40</tspan></text>
</g>
</svg>
</body></html>
